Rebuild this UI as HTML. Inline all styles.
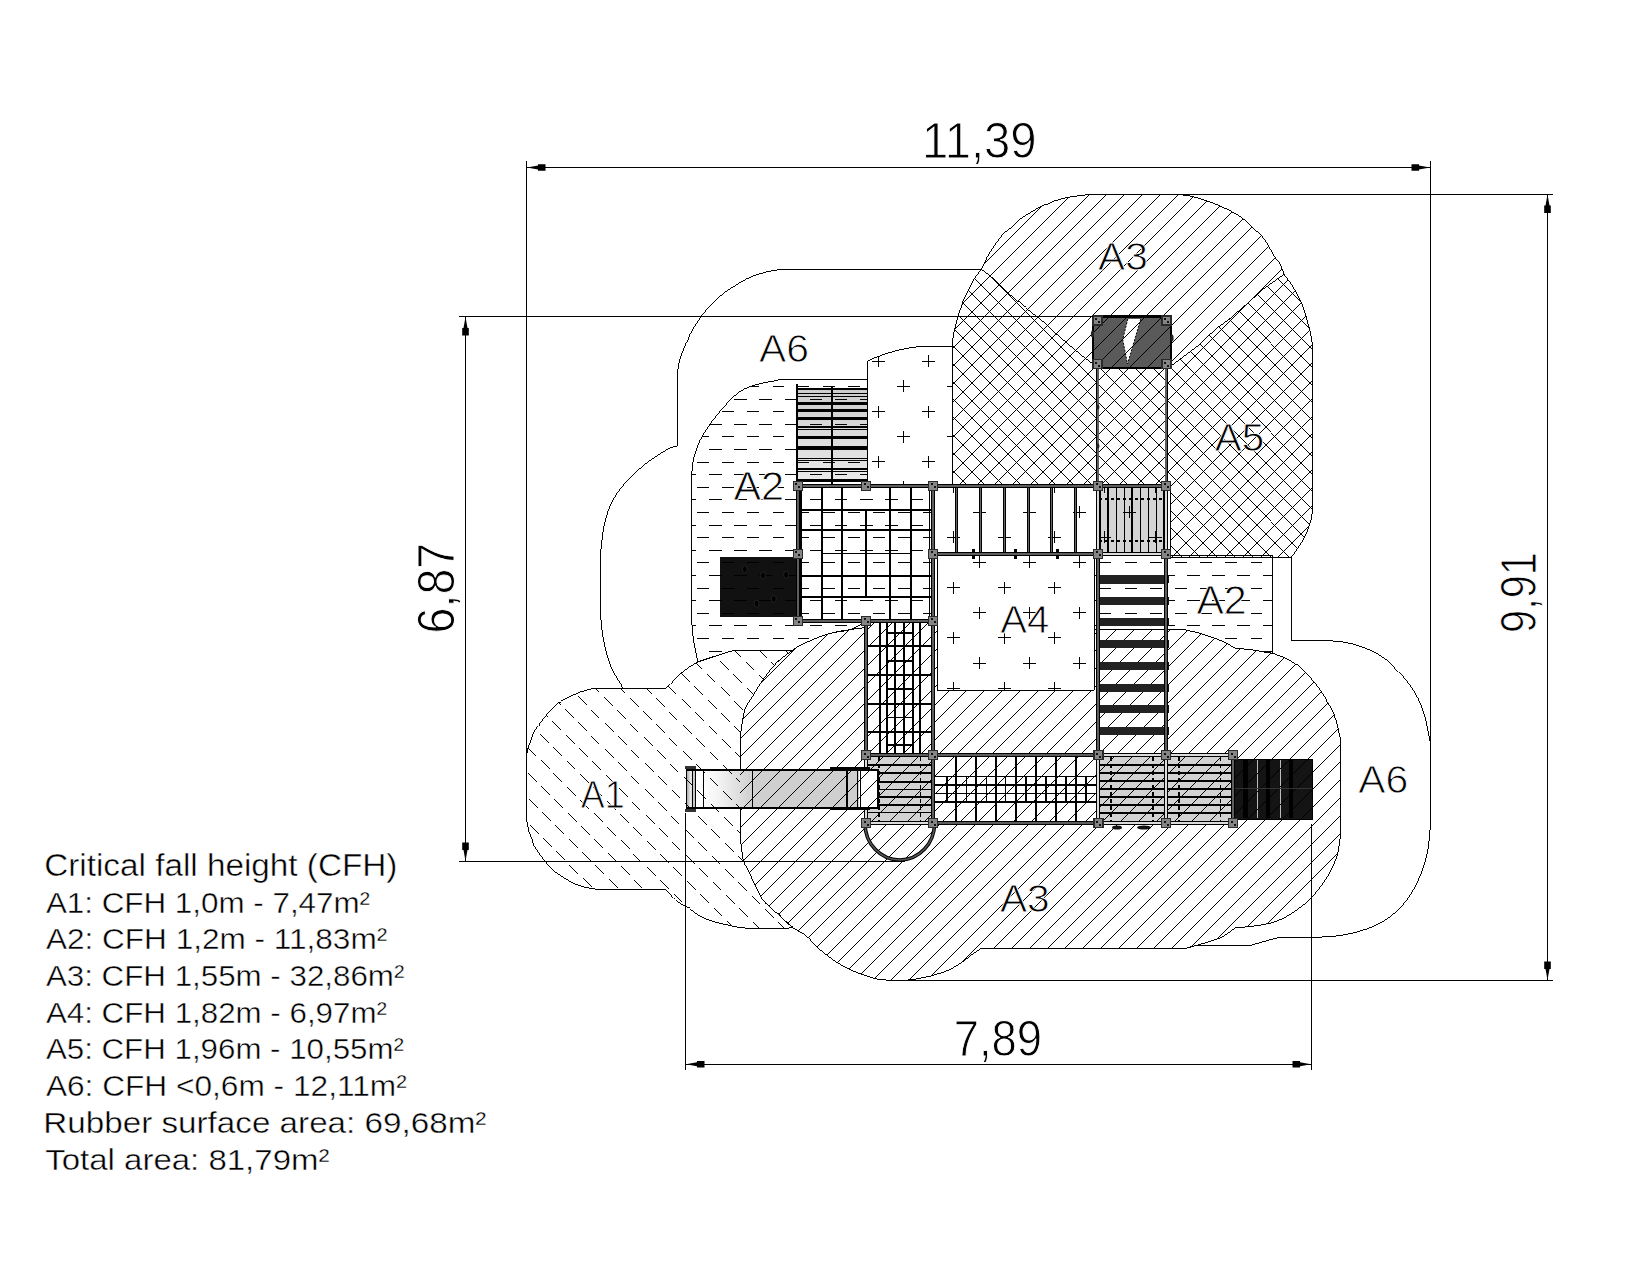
<!DOCTYPE html><html><head><meta charset="utf-8"><style>html,body{margin:0;padding:0;background:#fff}svg{display:block}</style></head><body>
<svg width="1650" height="1275" viewBox="0 0 1650 1275" font-family="Liberation Sans, sans-serif">
<rect width="1650" height="1275" fill="#fff"/>
<defs>
<clipPath id="cA3T"><path d="M952,485 L952,345 C952.4,342.5 953.4,334.9 954.4,330.1 C955.4,325.3 956.8,320.9 958.1,316.3 C959.4,311.7 960.7,306.7 962.4,302.5 C964.1,298.3 966.3,294.8 968.2,290.9 C970.1,287 971.8,282.9 974,279.3 C976.2,275.7 978.9,273.2 981.3,269.1 C983.7,265 986.3,258.5 988.5,254.6 C990.7,250.7 991.9,249.3 994.3,245.9 C996.7,242.5 1000.1,237.4 1003,234.3 C1005.9,231.2 1009,229.5 1011.7,227.1 C1014.4,224.7 1016.1,222.1 1019,219.8 C1021.9,217.5 1025.7,215.4 1029.1,213.3 C1032.5,211.2 1035.4,209.4 1039.3,207.5 C1043.2,205.6 1047.6,203.4 1052.4,201.7 C1057.2,200 1062.3,198.5 1068.3,197.3 C1074.3,196.1 1085.2,195.1 1088.6,194.6 L1180,194.6 C1182.2,194.9 1188.8,195.6 1193.3,196.7 C1197.8,197.8 1203,199.5 1207.3,201 C1211.6,202.5 1215.3,204 1219.3,205.7 C1223.3,207.4 1227.4,209.3 1231.3,211.4 C1235.2,213.5 1239.2,215.7 1242.7,218.3 C1246.2,220.9 1248.8,224 1252,227 C1255.2,230 1259.2,233.1 1262,236.3 C1264.8,239.5 1266.5,242.7 1268.7,246.3 C1270.9,249.9 1273.3,254.6 1275.3,257.7 C1277.3,260.8 1279.2,262.2 1280.7,265 C1282.2,267.8 1282.5,271.4 1284,274.3 C1285.5,277.2 1287.7,278.7 1290,282.3 C1292.3,285.9 1295.8,291.5 1298,295.7 C1300.2,299.9 1301.8,303.5 1303.3,307.7 C1304.8,311.9 1306.1,316.6 1307.3,321 C1308.5,325.4 1309.8,330.3 1310.7,334.3 C1311.6,338.3 1312.2,343.2 1312.5,345 L1313,503 C1313,528 1300,546 1291,557.6 L1170,557.6 L1170,485 Z"/></clipPath>
<clipPath id="cA5"><path d="M930,245 L981.3,269.1 L990,275.7 L998.7,283.6 L1007.4,292.4 L1017.5,301.1 L1026.2,308.3 L1036.4,316.3 L1046.6,324.3 L1055.3,333 L1065.4,341.7 L1075.6,350.4 L1084.3,357.6 L1094.4,364.9 L1094.4,368 L1171,368 L1171,366 L1190,351.7 L1200.7,343.7 L1210,334.3 L1219.3,326.3 L1228.7,319.7 L1239.3,310.3 L1248.7,302.3 L1263.3,289 L1284,274.3 L1320,248 L1360,600 L900,600 Z"/></clipPath>
<clipPath id="cA3B"><path d="M740,737.6 C740.8,733 742.6,716.9 744.7,710 C746.8,703.1 749.8,701.3 752.7,696.4 C755.7,691.5 758.4,686.3 762.4,680.6 C766.4,674.9 772,667.5 777,662.4 C782,657.3 788.7,653.2 792.7,650.3 C796.7,647.4 795.3,647.5 801.2,644.8 C807.1,642.1 819.8,636.5 827.9,634 C836,631.5 843.4,630.8 849.7,629.7 C856.1,628.6 863.3,627.9 866,627.5 L866,622 L937.3,622 L937.3,690.2 L1094,690.2 L1094,629.1 L1170,629.1 C1172.3,629.1 1180.7,628.9 1183.6,629.1 C1186.5,629.3 1184.2,629.5 1187.3,630.3 C1190.4,631.1 1197.4,632.5 1202.1,633.9 C1206.8,635.3 1211,636.9 1215.3,638.5 C1219.5,640.1 1224.2,642.1 1227.6,643.7 C1231,645.3 1232.5,647.4 1235.9,648.3 C1239.3,649.2 1244.1,648.8 1248.2,649.3 C1252.3,649.8 1256.5,650.6 1260.6,651.3 C1264.6,652 1268.4,652.5 1272.5,653.6 C1276.6,654.7 1280.3,655.6 1285,658 C1289.7,660.4 1295.1,663.2 1300.6,668 C1306.1,672.8 1312.5,679.5 1318,687 C1323.5,694.5 1329.7,704.2 1333.5,713 C1337.3,721.8 1339.4,735.5 1340.6,740 L1340.6,834 C1340,837.4 1339.4,847.5 1337.3,854.5 C1335.2,861.5 1332.2,868.7 1328,875.8 C1323.8,882.9 1317.3,891.2 1312,897 C1306.7,902.8 1301.3,906.6 1296,910.4 C1290.7,914.2 1285.5,917.4 1280,919.8 C1274.5,922.2 1270.5,923.3 1263,924.7 C1255.5,926.1 1239.4,927.5 1234.7,928 C1232.3,929.6 1227.9,934.4 1220.6,937.6 C1213.3,940.8 1196.9,945.2 1191,947 C1185.1,948.8 1186,948.1 1185,948.3 L981,948.3 C980.9,948.5 981.3,948.3 979.6,949.5 C977.9,950.7 973.6,953.4 970.9,955.3 C968.2,957.2 967.2,958.7 963.6,961.1 C960,963.5 954.4,967.4 949.1,969.8 C943.8,972.2 937.9,974 931.6,975.6 C925.3,977.2 916.6,979 911.3,979.7 C906,980.4 901.9,980 900,980 L886,980 C885,979.9 881.9,980.3 877.8,979.3 C873.7,978.3 866.6,975.9 861.8,974.2 C856.9,972.5 852.8,971.1 848.7,969.1 C844.6,967.1 840.7,964.8 837.1,962.5 C833.5,960.2 830,957.7 826.9,955.3 C823.8,952.9 821.8,951.4 818.2,948 C814.6,944.6 809.4,938.3 805.1,934.9 C800.9,931.5 797.3,931.1 792.7,927.6 C788.1,924.1 782,917.8 777.5,913.8 C773,909.8 768.7,906.2 766,903.5 C763.3,900.8 763.3,900.7 761.4,897.6 C759.5,894.5 756.8,889.2 754.8,885 C752.8,880.8 751.1,876.3 749.3,872.4 C747.5,868.5 745.1,865.7 743.8,861.6 C742.5,857.5 742.1,852.6 741.5,848 C740.9,843.4 740.2,836.3 740,834 Z"/></clipPath>
<clipPath id="cA1"><path d="M596.2,688.3 L666.2,688.2 C668.7,685.7 675.7,677.8 681,673.4 C686.3,669 692.1,664.9 698,662 C703.9,659.1 710.5,657.7 716.4,655.8 C722.3,653.9 730.5,651.4 733.3,650.5 L792.7,650.3 C790.1,652.3 782,657.3 777,662.4 C772,667.5 766.4,674.9 762.4,680.6 C758.4,686.3 755.7,691.5 752.7,696.4 C749.8,701.3 746.8,703.1 744.7,710 C742.6,716.9 740.8,733 740,737.6 L740,834 C740.2,836.3 740.9,843.4 741.5,848 C742.1,852.6 742.5,857.5 743.8,861.6 C745.1,865.7 747.5,868.5 749.3,872.4 C751.1,876.3 752.8,880.8 754.8,885 C756.8,889.2 759.5,894.5 761.4,897.6 C763.3,900.7 763.3,900.8 766,903.5 C768.7,906.2 773,909.8 777.5,913.8 C782,917.8 790.2,925.3 792.7,927.6 C788.9,928.4 777,928.4 770,928.4 C763,928.4 756.3,928.6 751,928.4 C745.7,928.2 742.1,927.8 738.3,927.3 C734.5,926.8 732,925.9 728.4,925.1 C724.8,924.3 719.9,923.3 716.6,922.4 C713.3,921.5 711.5,920.9 708.8,919.9 C706.1,918.9 702.9,917.7 700.6,916.5 C698.3,915.3 696.8,914.2 694.8,912.7 C692.8,911.2 690.1,908.9 688.5,907.8 C686.9,906.7 686.7,906.6 685.3,905.9 C683.9,905.2 682.1,904.9 680.2,903.5 C678.3,902.1 676.3,900 673.9,897.6 C671.5,895.2 667.1,890.8 665.7,889.4 L594.5,889.2 C592.4,888.7 585.5,887.5 581.8,886.4 C578.1,885.3 575.1,884.1 572.2,882.7 C569.4,881.3 567.6,880 564.7,878.2 C561.8,876.4 557.7,874 555,871.9 C552.3,869.8 550,867.5 548.3,865.6 C546.6,863.7 546,862.1 544.6,860.4 C543.2,858.6 541.5,857 540.1,855.1 C538.7,853.2 537.5,850.9 536.4,849.2 C535.3,847.5 534.1,846.5 533.4,844.7 C532.6,843 532.6,840.9 531.9,838.7 C531.1,836.5 529.6,833.8 528.9,831.3 C528.2,828.8 527.9,825.9 527.5,823.8 C527.1,821.7 526.5,819.5 526.3,818.6 L526.4,756.5 C526.6,755.9 526.8,754.2 527.1,752.7 C527.4,751.2 527.5,749.7 528.1,747.8 C528.7,745.9 529.7,743.9 530.6,741.4 C531.5,738.9 532,735.7 533.4,732.9 C534.8,730.1 537.6,726.7 539.1,724.5 C540.6,722.3 541.1,721.4 542.6,719.5 C544.1,717.6 546,715.6 548.2,713.2 C550.4,710.9 553.9,707.4 556,705.4 C558.1,703.4 558.7,702.6 560.9,701.2 C563.1,699.8 566.3,698.4 569.4,696.9 C572.5,695.4 575.8,693.7 579.3,692.4 C582.8,691.1 587.8,689.9 590.6,689.2 C593.4,688.5 595.3,688.4 596.2,688.3 Z"/></clipPath>
<clipPath id="cA2L"><path d="M781,379.4 L867.6,379.4 L867.6,485 L933,485 L933,622 L866,622 C863.3,623.3 856.1,627.7 849.7,629.7 C843.4,631.7 836,631.5 827.9,634 C819.8,636.5 807.1,642.1 801.2,644.8 C795.3,647.5 794.1,649.4 792.7,650.3 L733.3,650.5 C730.5,651.4 722.3,653.9 716.4,655.8 C710.5,657.7 701.1,661 698,662 C697.3,658.6 694.8,648.5 693.7,641.6 C692.6,634.7 692,624 691.6,620.5 L691.6,476 C692,472.8 692.3,463.7 694.1,457 C695.9,450.3 697.9,443.7 702.4,435.9 C706.9,428.1 714.2,417.9 721.2,410 C728.2,402.1 734.7,393.9 744.7,388.8 C754.7,383.7 775,381 781,379.4 Z"/></clipPath>
<clipPath id="cA2R"><path d="M1094,555.5 L1272.5,555.5 L1272.5,653.6 C1270.5,653.2 1264.6,652 1260.6,651.3 C1256.5,650.6 1252.3,649.8 1248.2,649.3 C1244.1,648.8 1239.3,649.2 1235.9,648.3 C1232.5,647.4 1231,645.3 1227.6,643.7 C1224.2,642.1 1219.5,640.1 1215.3,638.5 C1211,636.9 1206.8,635.3 1202.1,633.9 C1197.4,632.5 1190.4,631.1 1187.3,630.3 C1184.2,629.5 1184.2,629.3 1183.6,629.1 L1094,629.1 Z"/></clipPath>
<clipPath id="cA4"><path d="M867.6,485 L867.6,361 C880,355 900,348.5 918.8,346.6 L952,346.6 L952,485 L1166,485 L1166,553.8 L1094,553.8 L1094,690.2 L937.3,690.2 L937.3,553.8 L933,553.8 L933,485 Z"/></clipPath>
<clipPath id="cSlide"><rect x="686" y="769.5" width="192.5" height="38"/></clipPath>
<linearGradient id="gslide" x1="0" x2="1" y1="0" y2="0"><stop offset="0" stop-color="#fff"/><stop offset="0.25" stop-color="#f6f6f6"/><stop offset="1" stop-color="#cfcfcf"/></linearGradient>
<linearGradient id="gcap" x1="0" x2="1" y1="0" y2="0"><stop offset="0" stop-color="#9a9a9a"/><stop offset="0.5" stop-color="#e8e8e8"/><stop offset="1" stop-color="#bdbdbd"/></linearGradient>
</defs>
<g stroke="#000" stroke-width="0.99" fill="none" shape-rendering="crispEdges">
<path d="M952,485 L952,345 C952.4,342.5 953.4,334.9 954.4,330.1 C955.4,325.3 956.8,320.9 958.1,316.3 C959.4,311.7 960.7,306.7 962.4,302.5 C964.1,298.3 966.3,294.8 968.2,290.9 C970.1,287 971.8,282.9 974,279.3 C976.2,275.7 978.9,273.2 981.3,269.1 C983.7,265 986.3,258.5 988.5,254.6 C990.7,250.7 991.9,249.3 994.3,245.9 C996.7,242.5 1000.1,237.4 1003,234.3 C1005.9,231.2 1009,229.5 1011.7,227.1 C1014.4,224.7 1016.1,222.1 1019,219.8 C1021.9,217.5 1025.7,215.4 1029.1,213.3 C1032.5,211.2 1035.4,209.4 1039.3,207.5 C1043.2,205.6 1047.6,203.4 1052.4,201.7 C1057.2,200 1062.3,198.5 1068.3,197.3 C1074.3,196.1 1085.2,195.1 1088.6,194.6 L1180,194.6 C1182.2,194.9 1188.8,195.6 1193.3,196.7 C1197.8,197.8 1203,199.5 1207.3,201 C1211.6,202.5 1215.3,204 1219.3,205.7 C1223.3,207.4 1227.4,209.3 1231.3,211.4 C1235.2,213.5 1239.2,215.7 1242.7,218.3 C1246.2,220.9 1248.8,224 1252,227 C1255.2,230 1259.2,233.1 1262,236.3 C1264.8,239.5 1266.5,242.7 1268.7,246.3 C1270.9,249.9 1273.3,254.6 1275.3,257.7 C1277.3,260.8 1279.2,262.2 1280.7,265 C1282.2,267.8 1282.5,271.4 1284,274.3 C1285.5,277.2 1287.7,278.7 1290,282.3 C1292.3,285.9 1295.8,291.5 1298,295.7 C1300.2,299.9 1301.8,303.5 1303.3,307.7 C1304.8,311.9 1306.1,316.6 1307.3,321 C1308.5,325.4 1309.8,330.3 1310.7,334.3 C1311.6,338.3 1312.2,343.2 1312.5,345 L1313,503 C1313,528 1300,546 1291,557.6 L1170,557.6 L1170,485 Z"/>
<path d="M740,737.6 C740.8,733 742.6,716.9 744.7,710 C746.8,703.1 749.8,701.3 752.7,696.4 C755.7,691.5 758.4,686.3 762.4,680.6 C766.4,674.9 772,667.5 777,662.4 C782,657.3 788.7,653.2 792.7,650.3 C796.7,647.4 795.3,647.5 801.2,644.8 C807.1,642.1 819.8,636.5 827.9,634 C836,631.5 843.4,630.8 849.7,629.7 C856.1,628.6 863.3,627.9 866,627.5 L866,622 L937.3,622 L937.3,690.2 L1094,690.2 L1094,629.1 L1170,629.1 C1172.3,629.1 1180.7,628.9 1183.6,629.1 C1186.5,629.3 1184.2,629.5 1187.3,630.3 C1190.4,631.1 1197.4,632.5 1202.1,633.9 C1206.8,635.3 1211,636.9 1215.3,638.5 C1219.5,640.1 1224.2,642.1 1227.6,643.7 C1231,645.3 1232.5,647.4 1235.9,648.3 C1239.3,649.2 1244.1,648.8 1248.2,649.3 C1252.3,649.8 1256.5,650.6 1260.6,651.3 C1264.6,652 1268.4,652.5 1272.5,653.6 C1276.6,654.7 1280.3,655.6 1285,658 C1289.7,660.4 1295.1,663.2 1300.6,668 C1306.1,672.8 1312.5,679.5 1318,687 C1323.5,694.5 1329.7,704.2 1333.5,713 C1337.3,721.8 1339.4,735.5 1340.6,740 L1340.6,834 C1340,837.4 1339.4,847.5 1337.3,854.5 C1335.2,861.5 1332.2,868.7 1328,875.8 C1323.8,882.9 1317.3,891.2 1312,897 C1306.7,902.8 1301.3,906.6 1296,910.4 C1290.7,914.2 1285.5,917.4 1280,919.8 C1274.5,922.2 1270.5,923.3 1263,924.7 C1255.5,926.1 1239.4,927.5 1234.7,928 C1232.3,929.6 1227.9,934.4 1220.6,937.6 C1213.3,940.8 1196.9,945.2 1191,947 C1185.1,948.8 1186,948.1 1185,948.3 L981,948.3 C980.9,948.5 981.3,948.3 979.6,949.5 C977.9,950.7 973.6,953.4 970.9,955.3 C968.2,957.2 967.2,958.7 963.6,961.1 C960,963.5 954.4,967.4 949.1,969.8 C943.8,972.2 937.9,974 931.6,975.6 C925.3,977.2 916.6,979 911.3,979.7 C906,980.4 901.9,980 900,980 L886,980 C885,979.9 881.9,980.3 877.8,979.3 C873.7,978.3 866.6,975.9 861.8,974.2 C856.9,972.5 852.8,971.1 848.7,969.1 C844.6,967.1 840.7,964.8 837.1,962.5 C833.5,960.2 830,957.7 826.9,955.3 C823.8,952.9 821.8,951.4 818.2,948 C814.6,944.6 809.4,938.3 805.1,934.9 C800.9,931.5 797.3,931.1 792.7,927.6 C788.1,924.1 782,917.8 777.5,913.8 C773,909.8 768.7,906.2 766,903.5 C763.3,900.8 763.3,900.7 761.4,897.6 C759.5,894.5 756.8,889.2 754.8,885 C752.8,880.8 751.1,876.3 749.3,872.4 C747.5,868.5 745.1,865.7 743.8,861.6 C742.5,857.5 742.1,852.6 741.5,848 C740.9,843.4 740.2,836.3 740,834 Z"/>
<path d="M596.2,688.3 L666.2,688.2 C668.7,685.7 675.7,677.8 681,673.4 C686.3,669 692.1,664.9 698,662 C703.9,659.1 710.5,657.7 716.4,655.8 C722.3,653.9 730.5,651.4 733.3,650.5 L792.7,650.3 C790.1,652.3 782,657.3 777,662.4 C772,667.5 766.4,674.9 762.4,680.6 C758.4,686.3 755.7,691.5 752.7,696.4 C749.8,701.3 746.8,703.1 744.7,710 C742.6,716.9 740.8,733 740,737.6 L740,834 C740.2,836.3 740.9,843.4 741.5,848 C742.1,852.6 742.5,857.5 743.8,861.6 C745.1,865.7 747.5,868.5 749.3,872.4 C751.1,876.3 752.8,880.8 754.8,885 C756.8,889.2 759.5,894.5 761.4,897.6 C763.3,900.7 763.3,900.8 766,903.5 C768.7,906.2 773,909.8 777.5,913.8 C782,917.8 790.2,925.3 792.7,927.6 C788.9,928.4 777,928.4 770,928.4 C763,928.4 756.3,928.6 751,928.4 C745.7,928.2 742.1,927.8 738.3,927.3 C734.5,926.8 732,925.9 728.4,925.1 C724.8,924.3 719.9,923.3 716.6,922.4 C713.3,921.5 711.5,920.9 708.8,919.9 C706.1,918.9 702.9,917.7 700.6,916.5 C698.3,915.3 696.8,914.2 694.8,912.7 C692.8,911.2 690.1,908.9 688.5,907.8 C686.9,906.7 686.7,906.6 685.3,905.9 C683.9,905.2 682.1,904.9 680.2,903.5 C678.3,902.1 676.3,900 673.9,897.6 C671.5,895.2 667.1,890.8 665.7,889.4 L594.5,889.2 C592.4,888.7 585.5,887.5 581.8,886.4 C578.1,885.3 575.1,884.1 572.2,882.7 C569.4,881.3 567.6,880 564.7,878.2 C561.8,876.4 557.7,874 555,871.9 C552.3,869.8 550,867.5 548.3,865.6 C546.6,863.7 546,862.1 544.6,860.4 C543.2,858.6 541.5,857 540.1,855.1 C538.7,853.2 537.5,850.9 536.4,849.2 C535.3,847.5 534.1,846.5 533.4,844.7 C532.6,843 532.6,840.9 531.9,838.7 C531.1,836.5 529.6,833.8 528.9,831.3 C528.2,828.8 527.9,825.9 527.5,823.8 C527.1,821.7 526.5,819.5 526.3,818.6 L526.4,756.5 C526.6,755.9 526.8,754.2 527.1,752.7 C527.4,751.2 527.5,749.7 528.1,747.8 C528.7,745.9 529.7,743.9 530.6,741.4 C531.5,738.9 532,735.7 533.4,732.9 C534.8,730.1 537.6,726.7 539.1,724.5 C540.6,722.3 541.1,721.4 542.6,719.5 C544.1,717.6 546,715.6 548.2,713.2 C550.4,710.9 553.9,707.4 556,705.4 C558.1,703.4 558.7,702.6 560.9,701.2 C563.1,699.8 566.3,698.4 569.4,696.9 C572.5,695.4 575.8,693.7 579.3,692.4 C582.8,691.1 587.8,689.9 590.6,689.2 C593.4,688.5 595.3,688.4 596.2,688.3 Z"/>
<path d="M781,379.4 L867.6,379.4 L867.6,485 L933,485 L933,622 L866,622 C863.3,623.3 856.1,627.7 849.7,629.7 C843.4,631.7 836,631.5 827.9,634 C819.8,636.5 807.1,642.1 801.2,644.8 C795.3,647.5 794.1,649.4 792.7,650.3 L733.3,650.5 C730.5,651.4 722.3,653.9 716.4,655.8 C710.5,657.7 701.1,661 698,662 C697.3,658.6 694.8,648.5 693.7,641.6 C692.6,634.7 692,624 691.6,620.5 L691.6,476 C692,472.8 692.3,463.7 694.1,457 C695.9,450.3 697.9,443.7 702.4,435.9 C706.9,428.1 714.2,417.9 721.2,410 C728.2,402.1 734.7,393.9 744.7,388.8 C754.7,383.7 775,381 781,379.4 Z"/>
<path d="M1094,555.5 L1272.5,555.5 L1272.5,653.6 C1270.5,653.2 1264.6,652 1260.6,651.3 C1256.5,650.6 1252.3,649.8 1248.2,649.3 C1244.1,648.8 1239.3,649.2 1235.9,648.3 C1232.5,647.4 1231,645.3 1227.6,643.7 C1224.2,642.1 1219.5,640.1 1215.3,638.5 C1211,636.9 1206.8,635.3 1202.1,633.9 C1197.4,632.5 1190.4,631.1 1187.3,630.3 C1184.2,629.5 1184.2,629.3 1183.6,629.1 L1094,629.1 Z"/>
<path d="M867.6,485 L867.6,361 C880,355 900,348.5 918.8,346.6 L952,346.6 L952,485 L1166,485 L1166,553.8 L1094,553.8 L1094,690.2 L937.3,690.2 L937.3,553.8 L933,553.8 L933,485 Z"/>
<path d="M981.3,269.1 L990,275.7 L998.7,283.6 L1007.4,292.4 L1017.5,301.1 L1026.2,308.3 L1036.4,316.3 L1046.6,324.3 L1055.3,333 L1065.4,341.7 L1075.6,350.4 L1084.3,357.6 L1094.4,364.9"/>
<path d="M1171,366 L1190,351.7 L1200.7,343.7 L1210,334.3 L1219.3,326.3 L1228.7,319.7 L1239.3,310.3 L1248.7,302.3 L1263.3,289 L1284,274.3"/>
<path d="M623.4,688.2 C621.4,684.7 614.5,674.8 611.2,667 C607.9,659.2 605.6,650.1 603.8,641.6 C602,633.1 601.1,620.4 600.6,616.2 L600.6,552.8 C601.1,548.6 602.2,535.2 603.8,527.4 C605.4,519.6 607.1,512.9 610.1,506.2 C613.1,499.5 616.2,493.8 621.7,487.1 C627.2,480.4 635.5,472.2 642.9,466 C650.3,459.8 660.5,453.5 666.2,450.1 C672,446.8 675.5,446.6 677.4,445.9 L677.4,377 C677.5,376.2 677.4,374.7 677.7,372.2 C678,369.7 678.3,365.7 679.2,362 C680.1,358.3 681.6,354.2 683.3,349.8 C685,345.4 687.2,339.9 689.4,335.5 C691.6,331.1 694.1,327 696.5,323.3 C698.9,319.6 701,316.5 703.7,313.1 C706.4,309.7 709.7,306.1 712.9,302.9 C716.1,299.7 719.4,296.6 723.1,293.7 C726.8,290.8 731.2,288.1 735.3,285.5 C739.4,282.9 743.5,280.3 747.6,278.4 C751.7,276.4 755.7,275.1 759.8,273.8 C763.9,272.5 767.9,271.4 772,270.7 C776.1,270 782.2,269.6 784.3,269.4 L981,269.4"/>
<path d="M1291,557.6 L1291,640 L1319.4,640 C1323.9,640.4 1338.5,641.1 1346.6,642.6 C1354.7,644.1 1361.3,646.4 1368,649.3 C1374.7,652.2 1380.8,655.5 1386.6,660 C1392.4,664.5 1397.7,670.2 1402.6,676 C1407.5,681.8 1412.4,688.4 1415.9,694.6 C1419.5,700.8 1421.7,706.2 1423.9,713.3 C1426.1,720.4 1428.1,731.9 1429.2,737.2 C1430.3,742.5 1430.3,743.7 1430.5,745 L1430.5,822.5 C1430.1,827 1429.5,840.8 1427.9,849.2 C1426.4,857.6 1424.1,865.6 1421.2,873.1 C1418.3,880.6 1415,887.7 1410.6,894.4 C1406.2,901.1 1400.8,907.8 1394.6,913.1 C1388.4,918.4 1381.3,922.9 1373.3,926.4 C1365.3,929.9 1355.5,932.6 1346.6,934.4 C1337.7,936.2 1329.4,936.6 1320,937.1 C1310.6,937.6 1297,937.5 1290,937.6 C1283,937.7 1280,937.6 1278,937.6 L1250,945.5 L1195.8,945.5 L1190,947"/>
</g>
<g shape-rendering="crispEdges">
<defs><linearGradient id="gst" x1="0" x2="0" y1="0" y2="1"><stop offset="0" stop-color="#cdcdcd"/><stop offset="1" stop-color="#e9e9e9"/></linearGradient></defs>
<rect x="797" y="389" width="70.5" height="92" fill="url(#gst)"/>
<rect x="720" y="557" width="77.5" height="60" fill="#111"/>
<rect x="1093" y="316" width="78" height="52.5" fill="#5a5a5a"/>
<path d="M1127.8,319 L1140.8,319 L1127.5,364 L1122.7,339.5 Z" fill="#fff" shape-rendering="auto"/>
<rect x="1098" y="486" width="68" height="67.5" fill="#d4d4d4"/>
<rect x="866" y="756" width="67" height="67" fill="#d3d3d3"/>
<rect x="1098" y="756" width="135" height="67" fill="#d2d2d2"/>
<rect x="1233.5" y="759" width="78.5" height="60" fill="#141414"/>
<g fill="#000"><rect x="1243" y="760" width="4.5" height="58"/><rect x="1266" y="760" width="4" height="58"/><rect x="1289" y="760" width="4" height="58"/></g>
<g fill="#bbb"><rect x="1257" y="760" width="1" height="58"/><rect x="1280" y="760" width="1" height="58"/></g>
</g>
<g stroke="#000" stroke-width="0.99" fill="none" shape-rendering="crispEdges">
<path clip-path="url(#cA3T)" d="M558.4,565 L938.4,185 M576.2,565 L956.2,185 M594,565 L974,185 M611.8,565 L991.8,185 M629.6,565 L1009.6,185 M647.4,565 L1027.4,185 M665.2,565 L1045.2,185 M683,565 L1063,185 M700.8,565 L1080.8,185 M718.6,565 L1098.6,185 M736.4,565 L1116.4,185 M754.2,565 L1134.2,185 M772,565 L1152,185 M789.8,565 L1169.8,185 M807.6,565 L1187.6,185 M825.4,565 L1205.4,185 M843.2,565 L1223.2,185 M861,565 L1241,185 M878.8,565 L1258.8,185 M896.6,565 L1276.6,185 M914.4,565 L1294.4,185 M932.2,565 L1312.2,185 M950,565 L1330,185 M967.8,565 L1347.8,185 M985.6,565 L1365.6,185 M1003.4,565 L1383.4,185 M1021.2,565 L1401.2,185 M1039,565 L1419,185 M1056.8,565 L1436.8,185 M1074.6,565 L1454.6,185 M1092.4,565 L1472.4,185 M1110.2,565 L1490.2,185 M1128,565 L1508,185 M1145.8,565 L1525.8,185 M1163.6,565 L1543.6,185 M1181.4,565 L1561.4,185 M1199.2,565 L1579.2,185 M1217,565 L1597,185 M1234.8,565 L1614.8,185 M1252.6,565 L1632.6,185 M1270.4,565 L1650.4,185 M1288.2,565 L1668.2,185 M1306,565 L1686,185 M1323.8,565 L1703.8,185 M1341.6,565 L1721.6,185"/>
<g clip-path="url(#cA3T)"><path clip-path="url(#cA5)" d="M542.9,185 L922.9,565 M560.7,185 L940.7,565 M578.5,185 L958.5,565 M596.3,185 L976.3,565 M614.1,185 L994.1,565 M631.9,185 L1011.9,565 M649.7,185 L1029.7,565 M667.5,185 L1047.5,565 M685.3,185 L1065.3,565 M703.1,185 L1083.1,565 M720.9,185 L1100.9,565 M738.7,185 L1118.7,565 M756.5,185 L1136.5,565 M774.3,185 L1154.3,565 M792.1,185 L1172.1,565 M809.9,185 L1189.9,565 M827.7,185 L1207.7,565 M845.5,185 L1225.5,565 M863.3,185 L1243.3,565 M881.1,185 L1261.1,565 M898.9,185 L1278.9,565 M916.7,185 L1296.7,565 M934.5,185 L1314.5,565 M952.3,185 L1332.3,565 M970.1,185 L1350.1,565 M987.9,185 L1367.9,565 M1005.7,185 L1385.7,565 M1023.5,185 L1403.5,565 M1041.3,185 L1421.3,565 M1059.1,185 L1439.1,565 M1076.9,185 L1456.9,565 M1094.7,185 L1474.7,565 M1112.5,185 L1492.5,565 M1130.3,185 L1510.3,565 M1148.1,185 L1528.1,565 M1165.9,185 L1545.9,565 M1183.7,185 L1563.7,565 M1201.5,185 L1581.5,565 M1219.3,185 L1599.3,565 M1237.1,185 L1617.1,565 M1254.9,185 L1634.9,565 M1272.7,185 L1652.7,565 M1290.5,185 L1670.5,565 M1308.3,185 L1688.3,565 M1326.1,185 L1706.1,565"/></g>
<path clip-path="url(#cA3B)" d="M347,990 L722,615 M364.8,990 L739.8,615 M382.6,990 L757.6,615 M400.4,990 L775.4,615 M418.2,990 L793.2,615 M436,990 L811,615 M453.8,990 L828.8,615 M471.6,990 L846.6,615 M489.4,990 L864.4,615 M507.2,990 L882.2,615 M525,990 L900,615 M542.8,990 L917.8,615 M560.6,990 L935.6,615 M578.4,990 L953.4,615 M596.2,990 L971.2,615 M614,990 L989,615 M631.8,990 L1006.8,615 M649.6,990 L1024.6,615 M667.4,990 L1042.4,615 M685.2,990 L1060.2,615 M703,990 L1078,615 M720.8,990 L1095.8,615 M738.6,990 L1113.6,615 M756.4,990 L1131.4,615 M774.2,990 L1149.2,615 M792,990 L1167,615 M809.8,990 L1184.8,615 M827.6,990 L1202.6,615 M845.4,990 L1220.4,615 M863.2,990 L1238.2,615 M881,990 L1256,615 M898.8,990 L1273.8,615 M916.6,990 L1291.6,615 M934.4,990 L1309.4,615 M952.2,990 L1327.2,615 M970,990 L1345,615 M987.8,990 L1362.8,615 M1005.6,990 L1380.6,615 M1023.4,990 L1398.4,615 M1041.2,990 L1416.2,615 M1059,990 L1434,615 M1076.8,990 L1451.8,615 M1094.6,990 L1469.6,615 M1112.4,990 L1487.4,615 M1130.2,990 L1505.2,615 M1148,990 L1523,615 M1165.8,990 L1540.8,615 M1183.6,990 L1558.6,615 M1201.4,990 L1576.4,615 M1219.2,990 L1594.2,615 M1237,990 L1612,615 M1254.8,990 L1629.8,615 M1272.6,990 L1647.6,615 M1290.4,990 L1665.4,615 M1308.2,990 L1683.2,615 M1326,990 L1701,615 M1343.8,990 L1718.8,615 M1361.6,990 L1736.6,615"/>
<path clip-path="url(#cA1)" d="M510.9,629.4 l8.8,8.8 M511.6,655.4 l8.8,8.8 M524.3,642.7 l8.8,8.8 M537,630 l8.8,8.8 M512.4,681.4 l8.8,8.8 M525,668.7 l8.8,8.8 M537.6,656.1 l8.8,8.8 M550.3,643.4 l8.8,8.8 M563,630.8 l8.8,8.8 M513,707.3 l8.8,8.8 M525.7,694.7 l8.8,8.8 M538.3,682 l8.8,8.8 M551,669.4 l8.8,8.8 M563.6,656.7 l8.8,8.8 M576.3,644.1 l8.8,8.8 M588.9,631.4 l8.8,8.8 M513.8,733.3 l8.8,8.8 M526.4,720.7 l8.8,8.8 M539,708 l8.8,8.8 M551.7,695.4 l8.8,8.8 M564.3,682.8 l8.8,8.8 M577,670.1 l8.8,8.8 M589.6,657.4 l8.8,8.8 M602.3,644.8 l8.8,8.8 M614.9,632.1 l8.8,8.8 M514.4,759.4 l8.8,8.8 M527.1,746.7 l8.8,8.8 M539.8,734 l8.8,8.8 M552.4,721.4 l8.8,8.8 M565,708.8 l8.8,8.8 M577.7,696.1 l8.8,8.8 M590.4,683.4 l8.8,8.8 M603,670.8 l8.8,8.8 M615.6,658.1 l8.8,8.8 M628.3,645.5 l8.8,8.8 M640.9,632.9 l8.8,8.8 M515.1,785.4 l8.8,8.8 M527.8,772.7 l8.8,8.8 M540.5,760 l8.8,8.8 M553.1,747.4 l8.8,8.8 M565.8,734.8 l8.8,8.8 M578.4,722.1 l8.8,8.8 M591,709.5 l8.8,8.8 M603.7,696.8 l8.8,8.8 M616.4,684.1 l8.8,8.8 M629,671.5 l8.8,8.8 M641.6,658.9 l8.8,8.8 M654.3,646.2 l8.8,8.8 M667,633.5 l8.8,8.8 M515.9,811.4 l8.8,8.8 M528.5,798.7 l8.8,8.8 M541.1,786.1 l8.8,8.8 M553.8,773.4 l8.8,8.8 M566.5,760.8 l8.8,8.8 M579.1,748.1 l8.8,8.8 M591.8,735.5 l8.8,8.8 M604.4,722.8 l8.8,8.8 M617.1,710.1 l8.8,8.8 M629.7,697.5 l8.8,8.8 M642.4,684.9 l8.8,8.8 M655,672.2 l8.8,8.8 M667.6,659.6 l8.8,8.8 M680.3,646.9 l8.8,8.8 M693,634.2 l8.8,8.8 M516.5,837.3 l8.8,8.8 M529.2,824.7 l8.8,8.8 M541.8,812 l8.8,8.8 M554.5,799.4 l8.8,8.8 M567.1,786.7 l8.8,8.8 M579.8,774.1 l8.8,8.8 M592.4,761.4 l8.8,8.8 M605.1,748.8 l8.8,8.8 M617.7,736.1 l8.8,8.8 M630.4,723.5 l8.8,8.8 M643,710.8 l8.8,8.8 M655.7,698.2 l8.8,8.8 M668.3,685.5 l8.8,8.8 M681,672.9 l8.8,8.8 M693.6,660.2 l8.8,8.8 M706.3,647.6 l8.8,8.8 M718.9,634.9 l8.8,8.8 M517.2,863.4 l8.8,8.8 M529.9,850.7 l8.8,8.8 M542.5,838 l8.8,8.8 M555.2,825.4 l8.8,8.8 M567.9,812.7 l8.8,8.8 M580.5,800.1 l8.8,8.8 M593.1,787.4 l8.8,8.8 M605.8,774.8 l8.8,8.8 M618.4,762.1 l8.8,8.8 M631.1,749.5 l8.8,8.8 M643.8,736.8 l8.8,8.8 M656.4,724.2 l8.8,8.8 M669,711.5 l8.8,8.8 M681.7,698.9 l8.8,8.8 M694.4,686.2 l8.8,8.8 M707,673.6 l8.8,8.8 M719.6,660.9 l8.8,8.8 M732.3,648.3 l8.8,8.8 M744.9,635.6 l8.8,8.8 M517.9,889.4 l8.8,8.8 M530.6,876.7 l8.8,8.8 M543.2,864 l8.8,8.8 M555.9,851.4 l8.8,8.8 M568.5,838.8 l8.8,8.8 M581.2,826.1 l8.8,8.8 M593.9,813.4 l8.8,8.8 M606.5,800.8 l8.8,8.8 M619.1,788.1 l8.8,8.8 M631.8,775.5 l8.8,8.8 M644.4,762.9 l8.8,8.8 M657.1,750.2 l8.8,8.8 M669.8,737.5 l8.8,8.8 M682.4,724.9 l8.8,8.8 M695,712.2 l8.8,8.8 M707.7,699.6 l8.8,8.8 M720.4,686.9 l8.8,8.8 M733,674.3 l8.8,8.8 M745.6,661.6 l8.8,8.8 M758.3,649 l8.8,8.8 M770.9,636.4 l8.8,8.8 M506,928 l8.8,8.8 M518.6,915.4 l8.8,8.8 M531.3,902.7 l8.8,8.8 M543.9,890.1 l8.8,8.8 M556.6,877.4 l8.8,8.8 M569.2,864.8 l8.8,8.8 M581.9,852.1 l8.8,8.8 M594.6,839.4 l8.8,8.8 M607.2,826.8 l8.8,8.8 M619.9,814.1 l8.8,8.8 M632.5,801.5 l8.8,8.8 M645.1,788.9 l8.8,8.8 M657.8,776.2 l8.8,8.8 M670.5,763.5 l8.8,8.8 M683.1,750.9 l8.8,8.8 M695.8,738.2 l8.8,8.8 M708.4,725.6 l8.8,8.8 M721.1,712.9 l8.8,8.8 M733.7,700.3 l8.8,8.8 M746.4,687.6 l8.8,8.8 M759,675 l8.8,8.8 M771.6,662.4 l8.8,8.8 M784.3,649.7 l8.8,8.8 M797,637 l8.8,8.8 M532,928.7 l8.8,8.8 M544.6,916.1 l8.8,8.8 M557.3,903.4 l8.8,8.8 M570,890.8 l8.8,8.8 M582.6,878.1 l8.8,8.8 M595.2,865.5 l8.8,8.8 M607.9,852.8 l8.8,8.8 M620.6,840.1 l8.8,8.8 M633.2,827.5 l8.8,8.8 M645.9,814.9 l8.8,8.8 M658.5,802.2 l8.8,8.8 M671.1,789.6 l8.8,8.8 M683.8,776.9 l8.8,8.8 M696.5,764.2 l8.8,8.8 M709.1,751.6 l8.8,8.8 M721.8,739 l8.8,8.8 M734.4,726.3 l8.8,8.8 M747.1,713.6 l8.8,8.8 M759.7,701 l8.8,8.8 M772.4,688.4 l8.8,8.8 M785,675.7 l8.8,8.8 M797.6,663.1 l8.8,8.8 M558,929.4 l8.8,8.8 M570.6,916.7 l8.8,8.8 M583.3,904.1 l8.8,8.8 M595.9,891.4 l8.8,8.8 M608.6,878.8 l8.8,8.8 M621.2,866.1 l8.8,8.8 M633.9,853.5 l8.8,8.8 M646.5,840.8 l8.8,8.8 M659.2,828.2 l8.8,8.8 M671.8,815.5 l8.8,8.8 M684.5,802.9 l8.8,8.8 M697.1,790.2 l8.8,8.8 M709.8,777.6 l8.8,8.8 M722.4,764.9 l8.8,8.8 M735.1,752.3 l8.8,8.8 M747.7,739.6 l8.8,8.8 M760.4,727 l8.8,8.8 M773,714.3 l8.8,8.8 M785.7,701.7 l8.8,8.8 M798.3,689 l8.8,8.8 M584,930.1 l8.8,8.8 M596.6,917.4 l8.8,8.8 M609.3,904.8 l8.8,8.8 M621.9,892.1 l8.8,8.8 M634.6,879.5 l8.8,8.8 M647.2,866.8 l8.8,8.8 M659.9,854.2 l8.8,8.8 M672.5,841.5 l8.8,8.8 M685.2,828.9 l8.8,8.8 M697.8,816.2 l8.8,8.8 M710.5,803.6 l8.8,8.8 M723.1,790.9 l8.8,8.8 M735.8,778.3 l8.8,8.8 M748.4,765.6 l8.8,8.8 M761.1,753 l8.8,8.8 M773.8,740.3 l8.8,8.8 M786.4,727.7 l8.8,8.8 M799,715 l8.8,8.8 M610,930.8 l8.8,8.8 M622.6,918.1 l8.8,8.8 M635.3,905.5 l8.8,8.8 M647.9,892.9 l8.8,8.8 M660.6,880.2 l8.8,8.8 M673.2,867.5 l8.8,8.8 M685.9,854.9 l8.8,8.8 M698.5,842.2 l8.8,8.8 M711.2,829.6 l8.8,8.8 M723.9,816.9 l8.8,8.8 M736.5,804.3 l8.8,8.8 M749.1,791.6 l8.8,8.8 M761.8,779 l8.8,8.8 M774.4,766.4 l8.8,8.8 M787.1,753.7 l8.8,8.8 M799.8,741 l8.8,8.8 M636,931.5 l8.8,8.8 M648.6,918.9 l8.8,8.8 M661.3,906.2 l8.8,8.8 M674,893.5 l8.8,8.8 M686.6,880.9 l8.8,8.8 M699.2,868.2 l8.8,8.8 M711.9,855.6 l8.8,8.8 M724.5,843 l8.8,8.8 M737.2,830.3 l8.8,8.8 M749.9,817.6 l8.8,8.8 M762.5,805 l8.8,8.8 M775.1,792.4 l8.8,8.8 M787.8,779.7 l8.8,8.8 M800.5,767 l8.8,8.8 M662,932.2 l8.8,8.8 M674.6,919.6 l8.8,8.8 M687.3,906.9 l8.8,8.8 M700,894.2 l8.8,8.8 M712.6,881.6 l8.8,8.8 M725.2,869 l8.8,8.8 M737.9,856.3 l8.8,8.8 M750.6,843.6 l8.8,8.8 M763.2,831 l8.8,8.8 M775.9,818.4 l8.8,8.8 M788.5,805.7 l8.8,8.8 M801.1,793.1 l8.8,8.8 M688,932.9 l8.8,8.8 M700.6,920.2 l8.8,8.8 M713.3,907.6 l8.8,8.8 M725.9,894.9 l8.8,8.8 M738.6,882.3 l8.8,8.8 M751.2,869.6 l8.8,8.8 M763.9,857 l8.8,8.8 M776.5,844.3 l8.8,8.8 M789.2,831.7 l8.8,8.8 M801.8,819 l8.8,8.8 M714,933.6 l8.8,8.8 M726.6,920.9 l8.8,8.8 M739.3,908.3 l8.8,8.8 M751.9,895.6 l8.8,8.8 M764.6,883 l8.8,8.8 M777.2,870.3 l8.8,8.8 M789.9,857.7 l8.8,8.8 M802.5,845 l8.8,8.8 M740,934.3 l8.8,8.8 M752.6,921.6 l8.8,8.8 M765.3,909 l8.8,8.8 M777.9,896.4 l8.8,8.8 M790.6,883.7 l8.8,8.8 M803.2,871 l8.8,8.8 M766,935 l8.8,8.8 M778.6,922.4 l8.8,8.8 M791.3,909.7 l8.8,8.8 M804,897 l8.8,8.8 M792,935.7 l8.8,8.8 M804.6,923.1 l8.8,8.8"/>
<path clip-path="url(#cA2L)" d="M646.7,361.2 h11.8 M671.8,361.2 h11.8 M697,361.2 h11.8 M722.2,361.2 h11.8 M747.3,361.2 h11.8 M772.5,361.2 h11.8 M797.6,361.2 h11.8 M822.8,361.2 h11.8 M848,361.2 h11.8 M873.1,361.2 h11.8 M898.3,361.2 h11.8 M923.4,361.2 h11.8 M948.6,361.2 h11.8 M973.8,361.2 h11.8 M658.7,373.8 h12.6 M683.8,373.8 h12.6 M709,373.8 h12.6 M734.2,373.8 h12.6 M759.3,373.8 h12.6 M784.5,373.8 h12.6 M809.6,373.8 h12.6 M834.8,373.8 h12.6 M860,373.8 h12.6 M885.1,373.8 h12.6 M910.3,373.8 h12.6 M935.4,373.8 h12.6 M960.6,373.8 h12.6 M985.8,373.8 h12.6 M646.7,386.4 h11.8 M671.8,386.4 h11.8 M697,386.4 h11.8 M722.2,386.4 h11.8 M747.3,386.4 h11.8 M772.5,386.4 h11.8 M797.6,386.4 h11.8 M822.8,386.4 h11.8 M848,386.4 h11.8 M873.1,386.4 h11.8 M898.3,386.4 h11.8 M923.4,386.4 h11.8 M948.6,386.4 h11.8 M973.8,386.4 h11.8 M658.7,399 h12.6 M683.8,399 h12.6 M709,399 h12.6 M734.2,399 h12.6 M759.3,399 h12.6 M784.5,399 h12.6 M809.6,399 h12.6 M834.8,399 h12.6 M860,399 h12.6 M885.1,399 h12.6 M910.3,399 h12.6 M935.4,399 h12.6 M960.6,399 h12.6 M985.8,399 h12.6 M646.7,411.6 h11.8 M671.8,411.6 h11.8 M697,411.6 h11.8 M722.2,411.6 h11.8 M747.3,411.6 h11.8 M772.5,411.6 h11.8 M797.6,411.6 h11.8 M822.8,411.6 h11.8 M848,411.6 h11.8 M873.1,411.6 h11.8 M898.3,411.6 h11.8 M923.4,411.6 h11.8 M948.6,411.6 h11.8 M973.8,411.6 h11.8 M658.7,424.2 h12.6 M683.8,424.2 h12.6 M709,424.2 h12.6 M734.2,424.2 h12.6 M759.3,424.2 h12.6 M784.5,424.2 h12.6 M809.6,424.2 h12.6 M834.8,424.2 h12.6 M860,424.2 h12.6 M885.1,424.2 h12.6 M910.3,424.2 h12.6 M935.4,424.2 h12.6 M960.6,424.2 h12.6 M985.8,424.2 h12.6 M646.7,436.8 h11.8 M671.8,436.8 h11.8 M697,436.8 h11.8 M722.2,436.8 h11.8 M747.3,436.8 h11.8 M772.5,436.8 h11.8 M797.6,436.8 h11.8 M822.8,436.8 h11.8 M848,436.8 h11.8 M873.1,436.8 h11.8 M898.3,436.8 h11.8 M923.4,436.8 h11.8 M948.6,436.8 h11.8 M973.8,436.8 h11.8 M658.7,449.4 h12.6 M683.8,449.4 h12.6 M709,449.4 h12.6 M734.2,449.4 h12.6 M759.3,449.4 h12.6 M784.5,449.4 h12.6 M809.6,449.4 h12.6 M834.8,449.4 h12.6 M860,449.4 h12.6 M885.1,449.4 h12.6 M910.3,449.4 h12.6 M935.4,449.4 h12.6 M960.6,449.4 h12.6 M985.8,449.4 h12.6 M646.7,462 h11.8 M671.8,462 h11.8 M697,462 h11.8 M722.2,462 h11.8 M747.3,462 h11.8 M772.5,462 h11.8 M797.6,462 h11.8 M822.8,462 h11.8 M848,462 h11.8 M873.1,462 h11.8 M898.3,462 h11.8 M923.4,462 h11.8 M948.6,462 h11.8 M973.8,462 h11.8 M658.7,474.6 h12.6 M683.8,474.6 h12.6 M709,474.6 h12.6 M734.2,474.6 h12.6 M759.3,474.6 h12.6 M784.5,474.6 h12.6 M809.6,474.6 h12.6 M834.8,474.6 h12.6 M860,474.6 h12.6 M885.1,474.6 h12.6 M910.3,474.6 h12.6 M935.4,474.6 h12.6 M960.6,474.6 h12.6 M985.8,474.6 h12.6 M646.7,487.2 h11.8 M671.8,487.2 h11.8 M697,487.2 h11.8 M722.2,487.2 h11.8 M747.3,487.2 h11.8 M772.5,487.2 h11.8 M797.6,487.2 h11.8 M822.8,487.2 h11.8 M848,487.2 h11.8 M873.1,487.2 h11.8 M898.3,487.2 h11.8 M923.4,487.2 h11.8 M948.6,487.2 h11.8 M973.8,487.2 h11.8 M658.7,499.8 h12.6 M683.8,499.8 h12.6 M709,499.8 h12.6 M734.2,499.8 h12.6 M759.3,499.8 h12.6 M784.5,499.8 h12.6 M809.6,499.8 h12.6 M834.8,499.8 h12.6 M860,499.8 h12.6 M885.1,499.8 h12.6 M910.3,499.8 h12.6 M935.4,499.8 h12.6 M960.6,499.8 h12.6 M985.8,499.8 h12.6 M646.7,512.4 h11.8 M671.8,512.4 h11.8 M697,512.4 h11.8 M722.2,512.4 h11.8 M747.3,512.4 h11.8 M772.5,512.4 h11.8 M797.6,512.4 h11.8 M822.8,512.4 h11.8 M848,512.4 h11.8 M873.1,512.4 h11.8 M898.3,512.4 h11.8 M923.4,512.4 h11.8 M948.6,512.4 h11.8 M973.8,512.4 h11.8 M658.7,525 h12.6 M683.8,525 h12.6 M709,525 h12.6 M734.2,525 h12.6 M759.3,525 h12.6 M784.5,525 h12.6 M809.6,525 h12.6 M834.8,525 h12.6 M860,525 h12.6 M885.1,525 h12.6 M910.3,525 h12.6 M935.4,525 h12.6 M960.6,525 h12.6 M985.8,525 h12.6 M646.7,537.6 h11.8 M671.8,537.6 h11.8 M697,537.6 h11.8 M722.2,537.6 h11.8 M747.3,537.6 h11.8 M772.5,537.6 h11.8 M797.6,537.6 h11.8 M822.8,537.6 h11.8 M848,537.6 h11.8 M873.1,537.6 h11.8 M898.3,537.6 h11.8 M923.4,537.6 h11.8 M948.6,537.6 h11.8 M973.8,537.6 h11.8 M658.7,550.2 h12.6 M683.8,550.2 h12.6 M709,550.2 h12.6 M734.2,550.2 h12.6 M759.3,550.2 h12.6 M784.5,550.2 h12.6 M809.6,550.2 h12.6 M834.8,550.2 h12.6 M860,550.2 h12.6 M885.1,550.2 h12.6 M910.3,550.2 h12.6 M935.4,550.2 h12.6 M960.6,550.2 h12.6 M985.8,550.2 h12.6 M646.7,562.8 h11.8 M671.8,562.8 h11.8 M697,562.8 h11.8 M722.2,562.8 h11.8 M747.3,562.8 h11.8 M772.5,562.8 h11.8 M797.6,562.8 h11.8 M822.8,562.8 h11.8 M848,562.8 h11.8 M873.1,562.8 h11.8 M898.3,562.8 h11.8 M923.4,562.8 h11.8 M948.6,562.8 h11.8 M973.8,562.8 h11.8 M658.7,575.4 h12.6 M683.8,575.4 h12.6 M709,575.4 h12.6 M734.2,575.4 h12.6 M759.3,575.4 h12.6 M784.5,575.4 h12.6 M809.6,575.4 h12.6 M834.8,575.4 h12.6 M860,575.4 h12.6 M885.1,575.4 h12.6 M910.3,575.4 h12.6 M935.4,575.4 h12.6 M960.6,575.4 h12.6 M985.8,575.4 h12.6 M646.7,588 h11.8 M671.8,588 h11.8 M697,588 h11.8 M722.2,588 h11.8 M747.3,588 h11.8 M772.5,588 h11.8 M797.6,588 h11.8 M822.8,588 h11.8 M848,588 h11.8 M873.1,588 h11.8 M898.3,588 h11.8 M923.4,588 h11.8 M948.6,588 h11.8 M973.8,588 h11.8 M658.7,600.6 h12.6 M683.8,600.6 h12.6 M709,600.6 h12.6 M734.2,600.6 h12.6 M759.3,600.6 h12.6 M784.5,600.6 h12.6 M809.6,600.6 h12.6 M834.8,600.6 h12.6 M860,600.6 h12.6 M885.1,600.6 h12.6 M910.3,600.6 h12.6 M935.4,600.6 h12.6 M960.6,600.6 h12.6 M985.8,600.6 h12.6 M646.7,613.2 h11.8 M671.8,613.2 h11.8 M697,613.2 h11.8 M722.2,613.2 h11.8 M747.3,613.2 h11.8 M772.5,613.2 h11.8 M797.6,613.2 h11.8 M822.8,613.2 h11.8 M848,613.2 h11.8 M873.1,613.2 h11.8 M898.3,613.2 h11.8 M923.4,613.2 h11.8 M948.6,613.2 h11.8 M973.8,613.2 h11.8 M658.7,625.8 h12.6 M683.8,625.8 h12.6 M709,625.8 h12.6 M734.2,625.8 h12.6 M759.3,625.8 h12.6 M784.5,625.8 h12.6 M809.6,625.8 h12.6 M834.8,625.8 h12.6 M860,625.8 h12.6 M885.1,625.8 h12.6 M910.3,625.8 h12.6 M935.4,625.8 h12.6 M960.6,625.8 h12.6 M985.8,625.8 h12.6 M646.7,638.4 h11.8 M671.8,638.4 h11.8 M697,638.4 h11.8 M722.2,638.4 h11.8 M747.3,638.4 h11.8 M772.5,638.4 h11.8 M797.6,638.4 h11.8 M822.8,638.4 h11.8 M848,638.4 h11.8 M873.1,638.4 h11.8 M898.3,638.4 h11.8 M923.4,638.4 h11.8 M948.6,638.4 h11.8 M973.8,638.4 h11.8 M658.7,651 h12.6 M683.8,651 h12.6 M709,651 h12.6 M734.2,651 h12.6 M759.3,651 h12.6 M784.5,651 h12.6 M809.6,651 h12.6 M834.8,651 h12.6 M860,651 h12.6 M885.1,651 h12.6 M910.3,651 h12.6 M935.4,651 h12.6 M960.6,651 h12.6 M985.8,651 h12.6 M646.7,663.6 h11.8 M671.8,663.6 h11.8 M697,663.6 h11.8 M722.2,663.6 h11.8 M747.3,663.6 h11.8 M772.5,663.6 h11.8 M797.6,663.6 h11.8 M822.8,663.6 h11.8 M848,663.6 h11.8 M873.1,663.6 h11.8 M898.3,663.6 h11.8 M923.4,663.6 h11.8 M948.6,663.6 h11.8 M973.8,663.6 h11.8 M658.7,676.2 h12.6 M683.8,676.2 h12.6 M709,676.2 h12.6 M734.2,676.2 h12.6 M759.3,676.2 h12.6 M784.5,676.2 h12.6 M809.6,676.2 h12.6 M834.8,676.2 h12.6 M860,676.2 h12.6 M885.1,676.2 h12.6 M910.3,676.2 h12.6 M935.4,676.2 h12.6 M960.6,676.2 h12.6 M985.8,676.2 h12.6"/>
<path clip-path="url(#cA2R)" d="M1061.2,525 h12.6 M1086.4,525 h12.6 M1111.6,525 h12.6 M1136.7,525 h12.6 M1161.9,525 h12.6 M1187,525 h12.6 M1212.2,525 h12.6 M1237.4,525 h12.6 M1262.5,525 h12.6 M1287.7,525 h12.6 M1312.8,525 h12.6 M1049.2,537.6 h11.8 M1074.4,537.6 h11.8 M1099.6,537.6 h11.8 M1124.7,537.6 h11.8 M1149.9,537.6 h11.8 M1175,537.6 h11.8 M1200.2,537.6 h11.8 M1225.4,537.6 h11.8 M1250.5,537.6 h11.8 M1275.7,537.6 h11.8 M1300.8,537.6 h11.8 M1326,537.6 h11.8 M1061.2,550.2 h12.6 M1086.4,550.2 h12.6 M1111.6,550.2 h12.6 M1136.7,550.2 h12.6 M1161.9,550.2 h12.6 M1187,550.2 h12.6 M1212.2,550.2 h12.6 M1237.4,550.2 h12.6 M1262.5,550.2 h12.6 M1287.7,550.2 h12.6 M1312.8,550.2 h12.6 M1049.2,562.8 h11.8 M1074.4,562.8 h11.8 M1099.6,562.8 h11.8 M1124.7,562.8 h11.8 M1149.9,562.8 h11.8 M1175,562.8 h11.8 M1200.2,562.8 h11.8 M1225.4,562.8 h11.8 M1250.5,562.8 h11.8 M1275.7,562.8 h11.8 M1300.8,562.8 h11.8 M1326,562.8 h11.8 M1061.2,575.4 h12.6 M1086.4,575.4 h12.6 M1111.6,575.4 h12.6 M1136.7,575.4 h12.6 M1161.9,575.4 h12.6 M1187,575.4 h12.6 M1212.2,575.4 h12.6 M1237.4,575.4 h12.6 M1262.5,575.4 h12.6 M1287.7,575.4 h12.6 M1312.8,575.4 h12.6 M1049.2,588 h11.8 M1074.4,588 h11.8 M1099.6,588 h11.8 M1124.7,588 h11.8 M1149.9,588 h11.8 M1175,588 h11.8 M1200.2,588 h11.8 M1225.4,588 h11.8 M1250.5,588 h11.8 M1275.7,588 h11.8 M1300.8,588 h11.8 M1326,588 h11.8 M1061.2,600.6 h12.6 M1086.4,600.6 h12.6 M1111.6,600.6 h12.6 M1136.7,600.6 h12.6 M1161.9,600.6 h12.6 M1187,600.6 h12.6 M1212.2,600.6 h12.6 M1237.4,600.6 h12.6 M1262.5,600.6 h12.6 M1287.7,600.6 h12.6 M1312.8,600.6 h12.6 M1049.2,613.2 h11.8 M1074.4,613.2 h11.8 M1099.6,613.2 h11.8 M1124.7,613.2 h11.8 M1149.9,613.2 h11.8 M1175,613.2 h11.8 M1200.2,613.2 h11.8 M1225.4,613.2 h11.8 M1250.5,613.2 h11.8 M1275.7,613.2 h11.8 M1300.8,613.2 h11.8 M1326,613.2 h11.8 M1061.2,625.8 h12.6 M1086.4,625.8 h12.6 M1111.6,625.8 h12.6 M1136.7,625.8 h12.6 M1161.9,625.8 h12.6 M1187,625.8 h12.6 M1212.2,625.8 h12.6 M1237.4,625.8 h12.6 M1262.5,625.8 h12.6 M1287.7,625.8 h12.6 M1312.8,625.8 h12.6 M1049.2,638.4 h11.8 M1074.4,638.4 h11.8 M1099.6,638.4 h11.8 M1124.7,638.4 h11.8 M1149.9,638.4 h11.8 M1175,638.4 h11.8 M1200.2,638.4 h11.8 M1225.4,638.4 h11.8 M1250.5,638.4 h11.8 M1275.7,638.4 h11.8 M1300.8,638.4 h11.8 M1326,638.4 h11.8 M1061.2,651 h12.6 M1086.4,651 h12.6 M1111.6,651 h12.6 M1136.7,651 h12.6 M1161.9,651 h12.6 M1187,651 h12.6 M1212.2,651 h12.6 M1237.4,651 h12.6 M1262.5,651 h12.6 M1287.7,651 h12.6 M1312.8,651 h12.6 M1049.2,663.6 h11.8 M1074.4,663.6 h11.8 M1099.6,663.6 h11.8 M1124.7,663.6 h11.8 M1149.9,663.6 h11.8 M1175,663.6 h11.8 M1200.2,663.6 h11.8 M1225.4,663.6 h11.8 M1250.5,663.6 h11.8 M1275.7,663.6 h11.8 M1300.8,663.6 h11.8 M1326,663.6 h11.8 M1061.2,676.2 h12.6 M1086.4,676.2 h12.6 M1111.6,676.2 h12.6 M1136.7,676.2 h12.6 M1161.9,676.2 h12.6 M1187,676.2 h12.6 M1212.2,676.2 h12.6 M1237.4,676.2 h12.6 M1262.5,676.2 h12.6 M1287.7,676.2 h12.6 M1312.8,676.2 h12.6"/>
<path clip-path="url(#cA4)" d="M771.3,310.9 h13 M777.8,304.9 v12 M821.6,310.9 h13 M828.1,304.9 v12 M871.9,310.9 h13 M878.4,304.9 v12 M922.2,310.9 h13 M928.7,304.9 v12 M972.5,310.9 h13 M979,304.9 v12 M1022.8,310.9 h13 M1029.3,304.9 v12 M1073.1,310.9 h13 M1079.6,304.9 v12 M1123.4,310.9 h13 M1129.9,304.9 v12 M1173.7,310.9 h13 M1180.2,304.9 v12 M1224,310.9 h13 M1230.5,304.9 v12 M796.5,336 h13 M803,330 v12 M846.8,336 h13 M853.2,330 v12 M897,336 h13 M903.5,330 v12 M947.4,336 h13 M953.9,330 v12 M997.6,336 h13 M1004.1,330 v12 M1048,336 h13 M1054.5,330 v12 M1098.2,336 h13 M1104.8,330 v12 M1148.5,336 h13 M1155,330 v12 M1198.8,336 h13 M1205.3,330 v12 M1249.2,336 h13 M1255.7,330 v12 M771.3,361.2 h13 M777.8,355.2 v12 M821.6,361.2 h13 M828.1,355.2 v12 M871.9,361.2 h13 M878.4,355.2 v12 M922.2,361.2 h13 M928.7,355.2 v12 M972.5,361.2 h13 M979,355.2 v12 M1022.8,361.2 h13 M1029.3,355.2 v12 M1073.1,361.2 h13 M1079.6,355.2 v12 M1123.4,361.2 h13 M1129.9,355.2 v12 M1173.7,361.2 h13 M1180.2,355.2 v12 M1224,361.2 h13 M1230.5,355.2 v12 M796.5,386.4 h13 M803,380.4 v12 M846.8,386.4 h13 M853.2,380.4 v12 M897,386.4 h13 M903.5,380.4 v12 M947.4,386.4 h13 M953.9,380.4 v12 M997.6,386.4 h13 M1004.1,380.4 v12 M1048,386.4 h13 M1054.5,380.4 v12 M1098.2,386.4 h13 M1104.8,380.4 v12 M1148.5,386.4 h13 M1155,380.4 v12 M1198.8,386.4 h13 M1205.3,380.4 v12 M1249.2,386.4 h13 M1255.7,380.4 v12 M771.3,411.5 h13 M777.8,405.5 v12 M821.6,411.5 h13 M828.1,405.5 v12 M871.9,411.5 h13 M878.4,405.5 v12 M922.2,411.5 h13 M928.7,405.5 v12 M972.5,411.5 h13 M979,405.5 v12 M1022.8,411.5 h13 M1029.3,405.5 v12 M1073.1,411.5 h13 M1079.6,405.5 v12 M1123.4,411.5 h13 M1129.9,405.5 v12 M1173.7,411.5 h13 M1180.2,405.5 v12 M1224,411.5 h13 M1230.5,405.5 v12 M796.5,436.6 h13 M803,430.6 v12 M846.8,436.6 h13 M853.2,430.6 v12 M897,436.6 h13 M903.5,430.6 v12 M947.4,436.6 h13 M953.9,430.6 v12 M997.6,436.6 h13 M1004.1,430.6 v12 M1048,436.6 h13 M1054.5,430.6 v12 M1098.2,436.6 h13 M1104.8,430.6 v12 M1148.5,436.6 h13 M1155,430.6 v12 M1198.8,436.6 h13 M1205.3,430.6 v12 M1249.2,436.6 h13 M1255.7,430.6 v12 M771.3,461.8 h13 M777.8,455.8 v12 M821.6,461.8 h13 M828.1,455.8 v12 M871.9,461.8 h13 M878.4,455.8 v12 M922.2,461.8 h13 M928.7,455.8 v12 M972.5,461.8 h13 M979,455.8 v12 M1022.8,461.8 h13 M1029.3,455.8 v12 M1073.1,461.8 h13 M1079.6,455.8 v12 M1123.4,461.8 h13 M1129.9,455.8 v12 M1173.7,461.8 h13 M1180.2,455.8 v12 M1224,461.8 h13 M1230.5,455.8 v12 M796.5,486.9 h13 M803,480.9 v12 M846.8,486.9 h13 M853.2,480.9 v12 M897,486.9 h13 M903.5,480.9 v12 M947.4,486.9 h13 M953.9,480.9 v12 M997.6,486.9 h13 M1004.1,480.9 v12 M1048,486.9 h13 M1054.5,480.9 v12 M1098.2,486.9 h13 M1104.8,480.9 v12 M1148.5,486.9 h13 M1155,480.9 v12 M1198.8,486.9 h13 M1205.3,480.9 v12 M1249.2,486.9 h13 M1255.7,480.9 v12 M771.3,512.1 h13 M777.8,506.1 v12 M821.6,512.1 h13 M828.1,506.1 v12 M871.9,512.1 h13 M878.4,506.1 v12 M922.2,512.1 h13 M928.7,506.1 v12 M972.5,512.1 h13 M979,506.1 v12 M1022.8,512.1 h13 M1029.3,506.1 v12 M1073.1,512.1 h13 M1079.6,506.1 v12 M1123.4,512.1 h13 M1129.9,506.1 v12 M1173.7,512.1 h13 M1180.2,506.1 v12 M1224,512.1 h13 M1230.5,506.1 v12 M796.5,537.2 h13 M803,531.2 v12 M846.8,537.2 h13 M853.2,531.2 v12 M897,537.2 h13 M903.5,531.2 v12 M947.4,537.2 h13 M953.9,531.2 v12 M997.6,537.2 h13 M1004.1,531.2 v12 M1048,537.2 h13 M1054.5,531.2 v12 M1098.2,537.2 h13 M1104.8,531.2 v12 M1148.5,537.2 h13 M1155,531.2 v12 M1198.8,537.2 h13 M1205.3,531.2 v12 M1249.2,537.2 h13 M1255.7,531.2 v12 M771.3,562.4 h13 M777.8,556.4 v12 M821.6,562.4 h13 M828.1,556.4 v12 M871.9,562.4 h13 M878.4,556.4 v12 M922.2,562.4 h13 M928.7,556.4 v12 M972.5,562.4 h13 M979,556.4 v12 M1022.8,562.4 h13 M1029.3,556.4 v12 M1073.1,562.4 h13 M1079.6,556.4 v12 M1123.4,562.4 h13 M1129.9,556.4 v12 M1173.7,562.4 h13 M1180.2,556.4 v12 M1224,562.4 h13 M1230.5,556.4 v12 M796.5,587.5 h13 M803,581.5 v12 M846.8,587.5 h13 M853.2,581.5 v12 M897,587.5 h13 M903.5,581.5 v12 M947.4,587.5 h13 M953.9,581.5 v12 M997.6,587.5 h13 M1004.1,581.5 v12 M1048,587.5 h13 M1054.5,581.5 v12 M1098.2,587.5 h13 M1104.8,581.5 v12 M1148.5,587.5 h13 M1155,581.5 v12 M1198.8,587.5 h13 M1205.3,581.5 v12 M1249.2,587.5 h13 M1255.7,581.5 v12 M771.3,612.7 h13 M777.8,606.7 v12 M821.6,612.7 h13 M828.1,606.7 v12 M871.9,612.7 h13 M878.4,606.7 v12 M922.2,612.7 h13 M928.7,606.7 v12 M972.5,612.7 h13 M979,606.7 v12 M1022.8,612.7 h13 M1029.3,606.7 v12 M1073.1,612.7 h13 M1079.6,606.7 v12 M1123.4,612.7 h13 M1129.9,606.7 v12 M1173.7,612.7 h13 M1180.2,606.7 v12 M1224,612.7 h13 M1230.5,606.7 v12 M796.5,637.8 h13 M803,631.8 v12 M846.8,637.8 h13 M853.2,631.8 v12 M897,637.8 h13 M903.5,631.8 v12 M947.4,637.8 h13 M953.9,631.8 v12 M997.6,637.8 h13 M1004.1,631.8 v12 M1048,637.8 h13 M1054.5,631.8 v12 M1098.2,637.8 h13 M1104.8,631.8 v12 M1148.5,637.8 h13 M1155,631.8 v12 M1198.8,637.8 h13 M1205.3,631.8 v12 M1249.2,637.8 h13 M1255.7,631.8 v12 M771.3,663 h13 M777.8,657 v12 M821.6,663 h13 M828.1,657 v12 M871.9,663 h13 M878.4,657 v12 M922.2,663 h13 M928.7,657 v12 M972.5,663 h13 M979,657 v12 M1022.8,663 h13 M1029.3,657 v12 M1073.1,663 h13 M1079.6,657 v12 M1123.4,663 h13 M1129.9,657 v12 M1173.7,663 h13 M1180.2,657 v12 M1224,663 h13 M1230.5,657 v12 M796.5,688.1 h13 M803,682.1 v12 M846.8,688.1 h13 M853.2,682.1 v12 M897,688.1 h13 M903.5,682.1 v12 M947.4,688.1 h13 M953.9,682.1 v12 M997.6,688.1 h13 M1004.1,682.1 v12 M1048,688.1 h13 M1054.5,682.1 v12 M1098.2,688.1 h13 M1104.8,682.1 v12 M1148.5,688.1 h13 M1155,682.1 v12 M1198.8,688.1 h13 M1205.3,682.1 v12 M1249.2,688.1 h13 M1255.7,682.1 v12 M771.3,713.3 h13 M777.8,707.3 v12 M821.6,713.3 h13 M828.1,707.3 v12 M871.9,713.3 h13 M878.4,707.3 v12 M922.2,713.3 h13 M928.7,707.3 v12 M972.5,713.3 h13 M979,707.3 v12 M1022.8,713.3 h13 M1029.3,707.3 v12 M1073.1,713.3 h13 M1079.6,707.3 v12 M1123.4,713.3 h13 M1129.9,707.3 v12 M1173.7,713.3 h13 M1180.2,707.3 v12 M1224,713.3 h13 M1230.5,707.3 v12 M796.5,738.4 h13 M803,732.4 v12 M846.8,738.4 h13 M853.2,732.4 v12 M897,738.4 h13 M903.5,732.4 v12 M947.4,738.4 h13 M953.9,732.4 v12 M997.6,738.4 h13 M1004.1,732.4 v12 M1048,738.4 h13 M1054.5,732.4 v12 M1098.2,738.4 h13 M1104.8,732.4 v12 M1148.5,738.4 h13 M1155,732.4 v12 M1198.8,738.4 h13 M1205.3,732.4 v12 M1249.2,738.4 h13 M1255.7,732.4 v12"/>
</g>
<g fill="none" shape-rendering="crispEdges">
<rect x="797" y="389" width="70.5" height="92" fill="none" stroke="#000" stroke-width="1.5"/>
<path d="M797,393.4 L867.5,393.4" stroke="#000" stroke-width="1.2"/>
<path d="M797,396.7 L867.5,396.7" stroke="#000" stroke-width="1.2"/>
<path d="M797,403.2 L867.5,403.2" stroke="#000" stroke-width="2.6"/>
<path d="M797,409.2 L867.5,409.2" stroke="#000" stroke-width="1"/>
<path d="M797,411 L867.5,411" stroke="#000" stroke-width="1.6"/>
<path d="M797,418.4 L867.5,418.4" stroke="#000" stroke-width="2.6"/>
<path d="M797,427 L867.5,427" stroke="#000" stroke-width="1.4"/>
<path d="M797,429.5 L867.5,429.5" stroke="#000" stroke-width="1.4"/>
<path d="M797,437.8 L867.5,437.8" stroke="#000" stroke-width="3"/>
<path d="M797,448.2 L867.5,448.2" stroke="#000" stroke-width="4"/>
<path d="M797,458.3 L867.5,458.3" stroke="#000" stroke-width="1.2"/>
<path d="M797,460.2 L867.5,460.2" stroke="#000" stroke-width="1.2"/>
<path d="M797,469.2 L867.5,469.2" stroke="#000" stroke-width="1.6"/>
<path d="M797,471.8 L867.5,471.8" stroke="#000" stroke-width="1.2"/>
<path d="M797,479.8 L867.5,479.8" stroke="#000" stroke-width="2"/>
<path d="M832,386 L832,486" stroke="#000" stroke-width="2.2"/>
<path d="M797,384 L797,389" stroke="#000" stroke-width="1.2"/>
<path d="M867.5,384 L867.5,389" stroke="#000" stroke-width="1.2"/>
<path d="M822,487 L822,620" stroke="#000" stroke-width="2"/>
<path d="M842,487 L842,620" stroke="#000" stroke-width="2"/>
<path d="M890,487 L890,620" stroke="#000" stroke-width="2"/>
<path d="M910.5,487 L910.5,620" stroke="#000" stroke-width="2"/>
<path d="M866,510 L866,597" stroke="#000" stroke-width="2"/>
<path d="M799,510 L932,510" stroke="#000" stroke-width="2"/>
<path d="M799,530 L932,530" stroke="#000" stroke-width="2"/>
<path d="M799,576 L932,576" stroke="#000" stroke-width="2"/>
<path d="M799,597 L932,597" stroke="#000" stroke-width="2"/>
<path d="M822,553.5 L910,553.5" stroke="#000" stroke-width="1.5"/>
<path d="M801,487 L801,620" stroke="#000" stroke-width="1.2"/>
<path d="M929.5,487 L929.5,620" stroke="#000" stroke-width="1.2"/>
<path d="M880,623 L880,754" stroke="#000" stroke-width="2"/>
<path d="M887,623 L887,754" stroke="#000" stroke-width="2"/>
<path d="M895,623 L895,754" stroke="#000" stroke-width="2"/>
<path d="M904,623 L904,754" stroke="#000" stroke-width="2"/>
<path d="M913,623 L913,754" stroke="#000" stroke-width="2"/>
<path d="M919.5,623 L919.5,754" stroke="#000" stroke-width="2"/>
<path d="M868,646 L931,646" stroke="#000" stroke-width="2"/>
<path d="M868,675 L931,675" stroke="#000" stroke-width="2"/>
<path d="M868,704 L931,704" stroke="#000" stroke-width="2"/>
<path d="M868,732 L931,732" stroke="#000" stroke-width="2"/>
<path d="M886.6,633.1 L912.8,633.1" stroke="#000" stroke-width="1.5"/>
<path d="M886.6,660.8 L912.8,660.8" stroke="#000" stroke-width="1.5"/>
<path d="M886.6,689 L912.8,689" stroke="#000" stroke-width="1.5"/>
<path d="M886.6,717.7 L912.8,717.7" stroke="#000" stroke-width="1.5"/>
<path d="M886.6,745 L912.8,745" stroke="#000" stroke-width="1.5"/>
<path d="M956.5,487 L956.5,552" stroke="#000" stroke-width="3"/>
<path d="M956.5,487 L956.5,552" stroke="#666" stroke-width="1"/>
<path d="M980.5,487 L980.5,552" stroke="#000" stroke-width="3"/>
<path d="M980.5,487 L980.5,552" stroke="#666" stroke-width="1"/>
<path d="M1004.5,487 L1004.5,552" stroke="#000" stroke-width="3"/>
<path d="M1004.5,487 L1004.5,552" stroke="#666" stroke-width="1"/>
<path d="M1028.5,487 L1028.5,552" stroke="#000" stroke-width="3"/>
<path d="M1028.5,487 L1028.5,552" stroke="#666" stroke-width="1"/>
<path d="M1051.5,487 L1051.5,552" stroke="#000" stroke-width="3"/>
<path d="M1051.5,487 L1051.5,552" stroke="#666" stroke-width="1"/>
<path d="M1075.5,487 L1075.5,552" stroke="#000" stroke-width="3"/>
<path d="M1075.5,487 L1075.5,552" stroke="#666" stroke-width="1"/>
<path d="M973.4,549 L973.4,559" stroke="#000" stroke-width="2.4"/>
<path d="M1015.4,549 L1015.4,559" stroke="#000" stroke-width="2.4"/>
<path d="M1057.6,549 L1057.6,559" stroke="#000" stroke-width="2.4"/>
<path d="M1100.4,488 L1100.4,552" stroke="#000" stroke-width="1.6"/>
<path d="M1108.2,488 L1108.2,552" stroke="#000" stroke-width="1.6"/>
<path d="M1116.6,488 L1116.6,552" stroke="#000" stroke-width="1.6"/>
<path d="M1124.4,488 L1124.4,552" stroke="#000" stroke-width="1.6"/>
<path d="M1132.1,488 L1132.1,552" stroke="#000" stroke-width="1.6"/>
<path d="M1140.3,488 L1140.3,552" stroke="#000" stroke-width="1.6"/>
<path d="M1148.3,488 L1148.3,552" stroke="#000" stroke-width="1.6"/>
<path d="M1156.4,488 L1156.4,552" stroke="#000" stroke-width="1.6"/>
<path d="M1163.8,488 L1163.8,552" stroke="#000" stroke-width="1.6"/>
<path d="M1099,499 H1165 M1099,540.7 H1165" stroke="#000" stroke-width="1.6" stroke-dasharray="3,3"/>
<rect x="1093" y="316.5" width="78" height="51.5" fill="none" stroke="#000" stroke-width="2.2"/>
<path d="M1127.8,319 L1122.7,339.5 L1127.5,364 M1140.8,319 L1127.5,364" stroke="#000" stroke-width="1" stroke-dasharray="2,1.5" shape-rendering="auto"/>
<path d="M1097.7,368 L1097.7,485.5" stroke="#000" stroke-width="3"/>
<path d="M1097.7,368 L1097.7,485.5" stroke="#5e5e5e" stroke-width="2"/>
<path d="M1166,368 L1166,485.5" stroke="#000" stroke-width="3"/>
<path d="M1166,368 L1166,485.5" stroke="#5e5e5e" stroke-width="2"/>
<ellipse cx="1097.7" cy="407" rx="1.8" ry="2.6" fill="#222" shape-rendering="auto"/>
<ellipse cx="1097.7" cy="446" rx="1.8" ry="2.6" fill="#222" shape-rendering="auto"/>
<ellipse cx="1092.5" cy="334" rx="1.6" ry="3.5" fill="#222" shape-rendering="auto"/>
<ellipse cx="1172" cy="338" rx="1.6" ry="3.5" fill="#222" shape-rendering="auto"/>
<ellipse cx="1117" cy="827.5" rx="5" ry="2" fill="#111" shape-rendering="auto"/>
<ellipse cx="1144" cy="827.5" rx="7" ry="2" fill="#111" shape-rendering="auto"/>
<rect x="1166" y="575.4" width="3" height="8" fill="#111"/>
<rect x="1166" y="596.6" width="3" height="8" fill="#111"/>
<rect x="1166" y="618.3" width="3" height="8" fill="#111"/>
<rect x="1166" y="640.3" width="3" height="8" fill="#111"/>
<rect x="1166" y="661.5" width="3" height="8" fill="#111"/>
<rect x="1166" y="683.6" width="3" height="8" fill="#111"/>
<rect x="1166" y="704.8" width="3" height="8" fill="#111"/>
<rect x="1166" y="726.9" width="3" height="8" fill="#111"/>
<ellipse cx="744.7" cy="569.2" rx="2.5" ry="3.5" fill="#000" stroke="#2a2a2a" stroke-width="0.8" shape-rendering="auto"/>
<ellipse cx="762.9" cy="575.5" rx="2.5" ry="3.5" fill="#000" stroke="#2a2a2a" stroke-width="0.8" shape-rendering="auto"/>
<ellipse cx="786.1" cy="574.8" rx="2.5" ry="3.5" fill="#000" stroke="#2a2a2a" stroke-width="0.8" shape-rendering="auto"/>
<ellipse cx="756.6" cy="603.7" rx="2.5" ry="3.5" fill="#000" stroke="#2a2a2a" stroke-width="0.8" shape-rendering="auto"/>
<ellipse cx="773.8" cy="599" rx="2.5" ry="3.5" fill="#000" stroke="#2a2a2a" stroke-width="0.8" shape-rendering="auto"/>
<rect x="1099.4" y="575.4" width="65.3" height="8.1" fill="#222"/>
<rect x="1099.4" y="596.6" width="65.3" height="8.1" fill="#222"/>
<rect x="1099.4" y="618.3" width="65.3" height="7.9" fill="#222"/>
<rect x="1099.4" y="640.3" width="65.3" height="8" fill="#222"/>
<rect x="1099.4" y="661.5" width="65.3" height="8.5" fill="#222"/>
<rect x="1099.4" y="683.6" width="65.3" height="7.9" fill="#222"/>
<rect x="1099.4" y="704.8" width="65.3" height="8.3" fill="#222"/>
<rect x="1099.4" y="726.9" width="65.3" height="7.9" fill="#222"/>
<path d="M868,764.7 L931,764.7" stroke="#000" stroke-width="1.6"/>
<path d="M868,773.2 L931,773.2" stroke="#000" stroke-width="1.6"/>
<path d="M868,781.7 L931,781.7" stroke="#000" stroke-width="1.6"/>
<path d="M868,789.5 L931,789.5" stroke="#000" stroke-width="1.6"/>
<path d="M868,797.2 L931,797.2" stroke="#000" stroke-width="1.6"/>
<path d="M868,805 L931,805" stroke="#000" stroke-width="1.6"/>
<path d="M868,812.6 L931,812.6" stroke="#000" stroke-width="1.6"/>
<path d="M879,757 V822 M920.7,757 V822" stroke="#000" stroke-width="1.4" stroke-dasharray="4,3"/>
<path d="M956,757 L956,822" stroke="#000" stroke-width="2"/>
<path d="M976,757 L976,822" stroke="#000" stroke-width="2"/>
<path d="M996,757 L996,822" stroke="#000" stroke-width="2"/>
<path d="M1016,757 L1016,822" stroke="#000" stroke-width="2"/>
<path d="M1036,757 L1036,822" stroke="#000" stroke-width="2"/>
<path d="M1056,757 L1056,822" stroke="#000" stroke-width="2"/>
<path d="M1076,757 L1076,822" stroke="#000" stroke-width="2"/>
<path d="M935,776.3 L1096,776.3" stroke="#000" stroke-width="1.6"/>
<path d="M935,784.8 L1096,784.8" stroke="#000" stroke-width="1.6"/>
<path d="M935,793.3 L1096,793.3" stroke="#000" stroke-width="1.6"/>
<path d="M935,801.8 L1096,801.8" stroke="#000" stroke-width="1.6"/>
<path d="M947,776.3 L947,801.8" stroke="#000" stroke-width="1.5"/>
<path d="M966.3,776.3 L966.3,801.8" stroke="#000" stroke-width="1.5"/>
<path d="M986.4,776.3 L986.4,801.8" stroke="#000" stroke-width="1.5"/>
<path d="M1005.7,776.3 L1005.7,801.8" stroke="#000" stroke-width="1.5"/>
<path d="M1025.8,776.3 L1025.8,801.8" stroke="#000" stroke-width="1.5"/>
<path d="M1045.9,776.3 L1045.9,801.8" stroke="#000" stroke-width="1.5"/>
<path d="M1066,776.3 L1066,801.8" stroke="#000" stroke-width="1.5"/>
<path d="M1086,776.3 L1086,801.8" stroke="#000" stroke-width="1.5"/>
<path d="M1100,764.8 L1232,764.8" stroke="#000" stroke-width="1.7"/>
<path d="M1100,772.8 L1232,772.8" stroke="#000" stroke-width="1.7"/>
<path d="M1100,780.7 L1232,780.7" stroke="#000" stroke-width="1.7"/>
<path d="M1100,788.8 L1232,788.8" stroke="#000" stroke-width="1.7"/>
<path d="M1100,796.9 L1232,796.9" stroke="#000" stroke-width="1.7"/>
<path d="M1100,804.8 L1232,804.8" stroke="#000" stroke-width="1.7"/>
<path d="M1100,812.8 L1232,812.8" stroke="#000" stroke-width="1.7"/>
<path d="M1110.9,757 V822 M1153,757 V822 M1178.9,757 V822 M1220.7,757 V822" stroke="#000" stroke-width="1.5" stroke-dasharray="4,3"/>
<path d="M1233.5,788.5 L1312,788.5" stroke="#333" stroke-width="1"/>
<rect x="1233.5" y="759" width="78.5" height="60" fill="none" stroke="#000" stroke-width="1"/>
<path d="M865,823.5 A34.75,36.5 0 0 0 934.5,823.5" stroke="#000" stroke-width="3.6" shape-rendering="auto"/><path d="M865,823.5 A34.75,36.5 0 0 0 934.5,823.5" stroke="#555" stroke-width="1.6" shape-rendering="auto"/>
<path d="M797.9,485.7 L866,485.7" stroke="#000" stroke-width="4"/>
<path d="M797.9,485.7 L866,485.7" stroke="#5e5e5e" stroke-width="2"/>
<path d="M866,485.7 L933.2,485.7" stroke="#000" stroke-width="4"/>
<path d="M866,485.7 L933.2,485.7" stroke="#5e5e5e" stroke-width="2"/>
<path d="M933.2,485.7 L1098,485.7" stroke="#000" stroke-width="4"/>
<path d="M933.2,485.7 L1098,485.7" stroke="#5e5e5e" stroke-width="2"/>
<path d="M1098,485.7 L1166,485.7" stroke="#000" stroke-width="4"/>
<path d="M1098,485.7 L1166,485.7" stroke="#5e5e5e" stroke-width="2"/>
<path d="M797.9,485.7 L797.9,620.9" stroke="#000" stroke-width="4"/>
<path d="M797.9,485.7 L797.9,620.9" stroke="#5e5e5e" stroke-width="2"/>
<path d="M933.2,485.7 L933.2,620.9" stroke="#000" stroke-width="4"/>
<path d="M933.2,485.7 L933.2,620.9" stroke="#5e5e5e" stroke-width="2"/>
<path d="M797.9,620.9 L866,620.9" stroke="#000" stroke-width="4"/>
<path d="M797.9,620.9 L866,620.9" stroke="#5e5e5e" stroke-width="2"/>
<path d="M866,620.9 L933.2,620.9" stroke="#000" stroke-width="4"/>
<path d="M866,620.9 L933.2,620.9" stroke="#5e5e5e" stroke-width="2"/>
<path d="M933.2,553.8 L1098,553.8" stroke="#000" stroke-width="4"/>
<path d="M933.2,553.8 L1098,553.8" stroke="#5e5e5e" stroke-width="2"/>
<path d="M1098,553.8 L1166,553.8" stroke="#000" stroke-width="4"/>
<path d="M1098,553.8 L1166,553.8" stroke="#5e5e5e" stroke-width="2"/>
<path d="M866,620.9 L866,755.2" stroke="#000" stroke-width="4"/>
<path d="M866,620.9 L866,755.2" stroke="#5e5e5e" stroke-width="2"/>
<path d="M933.2,620.9 L933.2,755.2" stroke="#000" stroke-width="4"/>
<path d="M933.2,620.9 L933.2,755.2" stroke="#5e5e5e" stroke-width="2"/>
<path d="M1097.7,553.8 L1097.7,755.2" stroke="#000" stroke-width="4"/>
<path d="M1097.7,553.8 L1097.7,755.2" stroke="#5e5e5e" stroke-width="2"/>
<path d="M1166,553.8 L1166,755.2" stroke="#000" stroke-width="4"/>
<path d="M1166,553.8 L1166,755.2" stroke="#5e5e5e" stroke-width="2"/>
<path d="M866,755.2 L1098.4,755.2" stroke="#000" stroke-width="4"/>
<path d="M866,755.2 L1098.4,755.2" stroke="#5e5e5e" stroke-width="2"/>
<path d="M933.2,823 L1098.4,823" stroke="#000" stroke-width="4"/>
<path d="M933.2,823 L1098.4,823" stroke="#5e5e5e" stroke-width="2"/>
<path d="M933.2,755.2 L933.2,823" stroke="#000" stroke-width="4"/>
<path d="M933.2,755.2 L933.2,823" stroke="#5e5e5e" stroke-width="2"/>
<path d="M1233,755.2 L1233,823" stroke="#000" stroke-width="4"/>
<path d="M1233,755.2 L1233,823" stroke="#5e5e5e" stroke-width="2"/>
<path d="M866,823 L933.2,823" stroke="#000" stroke-width="4"/>
<path d="M866,823 L933.2,823" stroke="#dcdcdc" stroke-width="2"/>
<path d="M1098.4,823 L1233,823" stroke="#000" stroke-width="4"/>
<path d="M1098.4,823 L1233,823" stroke="#dcdcdc" stroke-width="2"/>
<path d="M1098.4,755.2 L1233,755.2" stroke="#000" stroke-width="4"/>
<path d="M1098.4,755.2 L1233,755.2" stroke="#dcdcdc" stroke-width="2"/>
<path d="M866,757 L866,768" stroke="#000" stroke-width="4"/>
<path d="M866,757 L866,768" stroke="#dcdcdc" stroke-width="2"/>
<path d="M866,809 L866,821" stroke="#000" stroke-width="4"/>
<path d="M866,809 L866,821" stroke="#dcdcdc" stroke-width="2"/>
<path d="M1098.4,755.2 L1098.4,823" stroke="#000" stroke-width="4"/>
<path d="M1098.4,755.2 L1098.4,823" stroke="#dcdcdc" stroke-width="2"/>
<path d="M1166,755.2 L1166,823" stroke="#000" stroke-width="4"/>
<path d="M1166,755.2 L1166,823" stroke="#dcdcdc" stroke-width="2"/>
<path d="M1098,485.7 L1098,553.8" stroke="#000" stroke-width="4"/>
<path d="M1098,485.7 L1098,553.8" stroke="#dcdcdc" stroke-width="2"/>
<path d="M1166,485.7 L1166,553.8" stroke="#000" stroke-width="4"/>
<path d="M1166,485.7 L1166,553.8" stroke="#dcdcdc" stroke-width="2"/>
<path d="M1098,553.8 L1166,553.8" stroke="#000" stroke-width="4"/>
<path d="M1098,553.8 L1166,553.8" stroke="#dcdcdc" stroke-width="2"/>
<rect x="793.4" y="481.2" width="9" height="9" fill="#858585" stroke="#2a2a2a" stroke-width="1.2"/>
<rect x="795.4" y="483.2" width="2" height="2" fill="#111"/>
<rect x="798.4" y="486.2" width="2" height="2" fill="#111"/>
<rect x="861.5" y="481.2" width="9" height="9" fill="#858585" stroke="#2a2a2a" stroke-width="1.2"/>
<rect x="863.5" y="483.2" width="2" height="2" fill="#111"/>
<rect x="866.5" y="486.2" width="2" height="2" fill="#111"/>
<rect x="928.7" y="481.2" width="9" height="9" fill="#858585" stroke="#2a2a2a" stroke-width="1.2"/>
<rect x="930.7" y="483.2" width="2" height="2" fill="#111"/>
<rect x="933.7" y="486.2" width="2" height="2" fill="#111"/>
<rect x="1093.5" y="481.2" width="9" height="9" fill="#858585" stroke="#2a2a2a" stroke-width="1.2"/>
<rect x="1095.5" y="483.2" width="2" height="2" fill="#111"/>
<rect x="1098.5" y="486.2" width="2" height="2" fill="#111"/>
<rect x="1161.5" y="481.2" width="9" height="9" fill="#858585" stroke="#2a2a2a" stroke-width="1.2"/>
<rect x="1163.5" y="483.2" width="2" height="2" fill="#111"/>
<rect x="1166.5" y="486.2" width="2" height="2" fill="#111"/>
<rect x="793.4" y="549.3" width="9" height="9" fill="#858585" stroke="#2a2a2a" stroke-width="1.2"/>
<rect x="795.4" y="551.3" width="2" height="2" fill="#111"/>
<rect x="798.4" y="554.3" width="2" height="2" fill="#111"/>
<rect x="928.7" y="549.3" width="9" height="9" fill="#858585" stroke="#2a2a2a" stroke-width="1.2"/>
<rect x="930.7" y="551.3" width="2" height="2" fill="#111"/>
<rect x="933.7" y="554.3" width="2" height="2" fill="#111"/>
<rect x="1093.5" y="549.3" width="9" height="9" fill="#858585" stroke="#2a2a2a" stroke-width="1.2"/>
<rect x="1095.5" y="551.3" width="2" height="2" fill="#111"/>
<rect x="1098.5" y="554.3" width="2" height="2" fill="#111"/>
<rect x="1161.5" y="549.3" width="9" height="9" fill="#858585" stroke="#2a2a2a" stroke-width="1.2"/>
<rect x="1163.5" y="551.3" width="2" height="2" fill="#111"/>
<rect x="1166.5" y="554.3" width="2" height="2" fill="#111"/>
<rect x="793.4" y="616.4" width="9" height="9" fill="#858585" stroke="#2a2a2a" stroke-width="1.2"/>
<rect x="795.4" y="618.4" width="2" height="2" fill="#111"/>
<rect x="798.4" y="621.4" width="2" height="2" fill="#111"/>
<rect x="861.5" y="616.4" width="9" height="9" fill="#858585" stroke="#2a2a2a" stroke-width="1.2"/>
<rect x="863.5" y="618.4" width="2" height="2" fill="#111"/>
<rect x="866.5" y="621.4" width="2" height="2" fill="#111"/>
<rect x="928.7" y="616.4" width="9" height="9" fill="#858585" stroke="#2a2a2a" stroke-width="1.2"/>
<rect x="930.7" y="618.4" width="2" height="2" fill="#111"/>
<rect x="933.7" y="621.4" width="2" height="2" fill="#111"/>
<rect x="861.5" y="750.7" width="9" height="9" fill="#858585" stroke="#2a2a2a" stroke-width="1.2"/>
<rect x="863.5" y="752.7" width="2" height="2" fill="#111"/>
<rect x="866.5" y="755.7" width="2" height="2" fill="#111"/>
<rect x="928.7" y="750.7" width="9" height="9" fill="#858585" stroke="#2a2a2a" stroke-width="1.2"/>
<rect x="930.7" y="752.7" width="2" height="2" fill="#111"/>
<rect x="933.7" y="755.7" width="2" height="2" fill="#111"/>
<rect x="1093.9" y="750.7" width="9" height="9" fill="#858585" stroke="#2a2a2a" stroke-width="1.2"/>
<rect x="1095.9" y="752.7" width="2" height="2" fill="#111"/>
<rect x="1098.9" y="755.7" width="2" height="2" fill="#111"/>
<rect x="1161.5" y="750.7" width="9" height="9" fill="#858585" stroke="#2a2a2a" stroke-width="1.2"/>
<rect x="1163.5" y="752.7" width="2" height="2" fill="#111"/>
<rect x="1166.5" y="755.7" width="2" height="2" fill="#111"/>
<rect x="1228.5" y="750.7" width="9" height="9" fill="#858585" stroke="#2a2a2a" stroke-width="1.2"/>
<rect x="1230.5" y="752.7" width="2" height="2" fill="#111"/>
<rect x="1233.5" y="755.7" width="2" height="2" fill="#111"/>
<rect x="861.5" y="818.5" width="9" height="9" fill="#858585" stroke="#2a2a2a" stroke-width="1.2"/>
<rect x="863.5" y="820.5" width="2" height="2" fill="#111"/>
<rect x="866.5" y="823.5" width="2" height="2" fill="#111"/>
<rect x="928.7" y="818.5" width="9" height="9" fill="#858585" stroke="#2a2a2a" stroke-width="1.2"/>
<rect x="930.7" y="820.5" width="2" height="2" fill="#111"/>
<rect x="933.7" y="823.5" width="2" height="2" fill="#111"/>
<rect x="1093.9" y="818.5" width="9" height="9" fill="#858585" stroke="#2a2a2a" stroke-width="1.2"/>
<rect x="1095.9" y="820.5" width="2" height="2" fill="#111"/>
<rect x="1098.9" y="823.5" width="2" height="2" fill="#111"/>
<rect x="1161.5" y="818.5" width="9" height="9" fill="#858585" stroke="#2a2a2a" stroke-width="1.2"/>
<rect x="1163.5" y="820.5" width="2" height="2" fill="#111"/>
<rect x="1166.5" y="823.5" width="2" height="2" fill="#111"/>
<rect x="1228.5" y="818.5" width="9" height="9" fill="#858585" stroke="#2a2a2a" stroke-width="1.2"/>
<rect x="1230.5" y="820.5" width="2" height="2" fill="#111"/>
<rect x="1233.5" y="823.5" width="2" height="2" fill="#111"/>
<rect x="1093" y="316" width="9" height="9" fill="#858585" stroke="#2a2a2a" stroke-width="1.2"/>
<rect x="1095" y="318" width="2" height="2" fill="#111"/>
<rect x="1098" y="321" width="2" height="2" fill="#111"/>
<rect x="1162" y="316" width="9" height="9" fill="#858585" stroke="#2a2a2a" stroke-width="1.2"/>
<rect x="1164" y="318" width="2" height="2" fill="#111"/>
<rect x="1167" y="321" width="2" height="2" fill="#111"/>
<rect x="1093" y="359.5" width="9" height="9" fill="#858585" stroke="#2a2a2a" stroke-width="1.2"/>
<rect x="1095" y="361.5" width="2" height="2" fill="#111"/>
<rect x="1098" y="364.5" width="2" height="2" fill="#111"/>
<rect x="1162" y="359.5" width="9" height="9" fill="#858585" stroke="#2a2a2a" stroke-width="1.2"/>
<rect x="1164" y="361.5" width="2" height="2" fill="#111"/>
<rect x="1167" y="364.5" width="2" height="2" fill="#111"/>
</g>
<g shape-rendering="crispEdges"><rect x="686" y="769.5" width="192.5" height="38" fill="#fff"/><rect x="686" y="769.5" width="9" height="38" fill="url(#gcap)"/><rect x="703.5" y="769.5" width="49" height="38" fill="url(#gslide)"/><rect x="752.5" y="769.5" width="106" height="38" fill="#cfcfcf"/></g>
<g stroke="#000" stroke-width="0.99" fill="none" shape-rendering="crispEdges" clip-path="url(#cSlide)">
<path clip-path="url(#cA3T)" d="M558.4,565 L938.4,185 M576.2,565 L956.2,185 M594,565 L974,185 M611.8,565 L991.8,185 M629.6,565 L1009.6,185 M647.4,565 L1027.4,185 M665.2,565 L1045.2,185 M683,565 L1063,185 M700.8,565 L1080.8,185 M718.6,565 L1098.6,185 M736.4,565 L1116.4,185 M754.2,565 L1134.2,185 M772,565 L1152,185 M789.8,565 L1169.8,185 M807.6,565 L1187.6,185 M825.4,565 L1205.4,185 M843.2,565 L1223.2,185 M861,565 L1241,185 M878.8,565 L1258.8,185 M896.6,565 L1276.6,185 M914.4,565 L1294.4,185 M932.2,565 L1312.2,185 M950,565 L1330,185 M967.8,565 L1347.8,185 M985.6,565 L1365.6,185 M1003.4,565 L1383.4,185 M1021.2,565 L1401.2,185 M1039,565 L1419,185 M1056.8,565 L1436.8,185 M1074.6,565 L1454.6,185 M1092.4,565 L1472.4,185 M1110.2,565 L1490.2,185 M1128,565 L1508,185 M1145.8,565 L1525.8,185 M1163.6,565 L1543.6,185 M1181.4,565 L1561.4,185 M1199.2,565 L1579.2,185 M1217,565 L1597,185 M1234.8,565 L1614.8,185 M1252.6,565 L1632.6,185 M1270.4,565 L1650.4,185 M1288.2,565 L1668.2,185 M1306,565 L1686,185 M1323.8,565 L1703.8,185 M1341.6,565 L1721.6,185"/>
<g clip-path="url(#cA3T)"><path clip-path="url(#cA5)" d="M542.9,185 L922.9,565 M560.7,185 L940.7,565 M578.5,185 L958.5,565 M596.3,185 L976.3,565 M614.1,185 L994.1,565 M631.9,185 L1011.9,565 M649.7,185 L1029.7,565 M667.5,185 L1047.5,565 M685.3,185 L1065.3,565 M703.1,185 L1083.1,565 M720.9,185 L1100.9,565 M738.7,185 L1118.7,565 M756.5,185 L1136.5,565 M774.3,185 L1154.3,565 M792.1,185 L1172.1,565 M809.9,185 L1189.9,565 M827.7,185 L1207.7,565 M845.5,185 L1225.5,565 M863.3,185 L1243.3,565 M881.1,185 L1261.1,565 M898.9,185 L1278.9,565 M916.7,185 L1296.7,565 M934.5,185 L1314.5,565 M952.3,185 L1332.3,565 M970.1,185 L1350.1,565 M987.9,185 L1367.9,565 M1005.7,185 L1385.7,565 M1023.5,185 L1403.5,565 M1041.3,185 L1421.3,565 M1059.1,185 L1439.1,565 M1076.9,185 L1456.9,565 M1094.7,185 L1474.7,565 M1112.5,185 L1492.5,565 M1130.3,185 L1510.3,565 M1148.1,185 L1528.1,565 M1165.9,185 L1545.9,565 M1183.7,185 L1563.7,565 M1201.5,185 L1581.5,565 M1219.3,185 L1599.3,565 M1237.1,185 L1617.1,565 M1254.9,185 L1634.9,565 M1272.7,185 L1652.7,565 M1290.5,185 L1670.5,565 M1308.3,185 L1688.3,565 M1326.1,185 L1706.1,565"/></g>
<path clip-path="url(#cA3B)" d="M347,990 L722,615 M364.8,990 L739.8,615 M382.6,990 L757.6,615 M400.4,990 L775.4,615 M418.2,990 L793.2,615 M436,990 L811,615 M453.8,990 L828.8,615 M471.6,990 L846.6,615 M489.4,990 L864.4,615 M507.2,990 L882.2,615 M525,990 L900,615 M542.8,990 L917.8,615 M560.6,990 L935.6,615 M578.4,990 L953.4,615 M596.2,990 L971.2,615 M614,990 L989,615 M631.8,990 L1006.8,615 M649.6,990 L1024.6,615 M667.4,990 L1042.4,615 M685.2,990 L1060.2,615 M703,990 L1078,615 M720.8,990 L1095.8,615 M738.6,990 L1113.6,615 M756.4,990 L1131.4,615 M774.2,990 L1149.2,615 M792,990 L1167,615 M809.8,990 L1184.8,615 M827.6,990 L1202.6,615 M845.4,990 L1220.4,615 M863.2,990 L1238.2,615 M881,990 L1256,615 M898.8,990 L1273.8,615 M916.6,990 L1291.6,615 M934.4,990 L1309.4,615 M952.2,990 L1327.2,615 M970,990 L1345,615 M987.8,990 L1362.8,615 M1005.6,990 L1380.6,615 M1023.4,990 L1398.4,615 M1041.2,990 L1416.2,615 M1059,990 L1434,615 M1076.8,990 L1451.8,615 M1094.6,990 L1469.6,615 M1112.4,990 L1487.4,615 M1130.2,990 L1505.2,615 M1148,990 L1523,615 M1165.8,990 L1540.8,615 M1183.6,990 L1558.6,615 M1201.4,990 L1576.4,615 M1219.2,990 L1594.2,615 M1237,990 L1612,615 M1254.8,990 L1629.8,615 M1272.6,990 L1647.6,615 M1290.4,990 L1665.4,615 M1308.2,990 L1683.2,615 M1326,990 L1701,615 M1343.8,990 L1718.8,615 M1361.6,990 L1736.6,615"/>
<path clip-path="url(#cA1)" d="M510.9,629.4 l8.8,8.8 M511.6,655.4 l8.8,8.8 M524.3,642.7 l8.8,8.8 M537,630 l8.8,8.8 M512.4,681.4 l8.8,8.8 M525,668.7 l8.8,8.8 M537.6,656.1 l8.8,8.8 M550.3,643.4 l8.8,8.8 M563,630.8 l8.8,8.8 M513,707.3 l8.8,8.8 M525.7,694.7 l8.8,8.8 M538.3,682 l8.8,8.8 M551,669.4 l8.8,8.8 M563.6,656.7 l8.8,8.8 M576.3,644.1 l8.8,8.8 M588.9,631.4 l8.8,8.8 M513.8,733.3 l8.8,8.8 M526.4,720.7 l8.8,8.8 M539,708 l8.8,8.8 M551.7,695.4 l8.8,8.8 M564.3,682.8 l8.8,8.8 M577,670.1 l8.8,8.8 M589.6,657.4 l8.8,8.8 M602.3,644.8 l8.8,8.8 M614.9,632.1 l8.8,8.8 M514.4,759.4 l8.8,8.8 M527.1,746.7 l8.8,8.8 M539.8,734 l8.8,8.8 M552.4,721.4 l8.8,8.8 M565,708.8 l8.8,8.8 M577.7,696.1 l8.8,8.8 M590.4,683.4 l8.8,8.8 M603,670.8 l8.8,8.8 M615.6,658.1 l8.8,8.8 M628.3,645.5 l8.8,8.8 M640.9,632.9 l8.8,8.8 M515.1,785.4 l8.8,8.8 M527.8,772.7 l8.8,8.8 M540.5,760 l8.8,8.8 M553.1,747.4 l8.8,8.8 M565.8,734.8 l8.8,8.8 M578.4,722.1 l8.8,8.8 M591,709.5 l8.8,8.8 M603.7,696.8 l8.8,8.8 M616.4,684.1 l8.8,8.8 M629,671.5 l8.8,8.8 M641.6,658.9 l8.8,8.8 M654.3,646.2 l8.8,8.8 M667,633.5 l8.8,8.8 M515.9,811.4 l8.8,8.8 M528.5,798.7 l8.8,8.8 M541.1,786.1 l8.8,8.8 M553.8,773.4 l8.8,8.8 M566.5,760.8 l8.8,8.8 M579.1,748.1 l8.8,8.8 M591.8,735.5 l8.8,8.8 M604.4,722.8 l8.8,8.8 M617.1,710.1 l8.8,8.8 M629.7,697.5 l8.8,8.8 M642.4,684.9 l8.8,8.8 M655,672.2 l8.8,8.8 M667.6,659.6 l8.8,8.8 M680.3,646.9 l8.8,8.8 M693,634.2 l8.8,8.8 M516.5,837.3 l8.8,8.8 M529.2,824.7 l8.8,8.8 M541.8,812 l8.8,8.8 M554.5,799.4 l8.8,8.8 M567.1,786.7 l8.8,8.8 M579.8,774.1 l8.8,8.8 M592.4,761.4 l8.8,8.8 M605.1,748.8 l8.8,8.8 M617.7,736.1 l8.8,8.8 M630.4,723.5 l8.8,8.8 M643,710.8 l8.8,8.8 M655.7,698.2 l8.8,8.8 M668.3,685.5 l8.8,8.8 M681,672.9 l8.8,8.8 M693.6,660.2 l8.8,8.8 M706.3,647.6 l8.8,8.8 M718.9,634.9 l8.8,8.8 M517.2,863.4 l8.8,8.8 M529.9,850.7 l8.8,8.8 M542.5,838 l8.8,8.8 M555.2,825.4 l8.8,8.8 M567.9,812.7 l8.8,8.8 M580.5,800.1 l8.8,8.8 M593.1,787.4 l8.8,8.8 M605.8,774.8 l8.8,8.8 M618.4,762.1 l8.8,8.8 M631.1,749.5 l8.8,8.8 M643.8,736.8 l8.8,8.8 M656.4,724.2 l8.8,8.8 M669,711.5 l8.8,8.8 M681.7,698.9 l8.8,8.8 M694.4,686.2 l8.8,8.8 M707,673.6 l8.8,8.8 M719.6,660.9 l8.8,8.8 M732.3,648.3 l8.8,8.8 M744.9,635.6 l8.8,8.8 M517.9,889.4 l8.8,8.8 M530.6,876.7 l8.8,8.8 M543.2,864 l8.8,8.8 M555.9,851.4 l8.8,8.8 M568.5,838.8 l8.8,8.8 M581.2,826.1 l8.8,8.8 M593.9,813.4 l8.8,8.8 M606.5,800.8 l8.8,8.8 M619.1,788.1 l8.8,8.8 M631.8,775.5 l8.8,8.8 M644.4,762.9 l8.8,8.8 M657.1,750.2 l8.8,8.8 M669.8,737.5 l8.8,8.8 M682.4,724.9 l8.8,8.8 M695,712.2 l8.8,8.8 M707.7,699.6 l8.8,8.8 M720.4,686.9 l8.8,8.8 M733,674.3 l8.8,8.8 M745.6,661.6 l8.8,8.8 M758.3,649 l8.8,8.8 M770.9,636.4 l8.8,8.8 M506,928 l8.8,8.8 M518.6,915.4 l8.8,8.8 M531.3,902.7 l8.8,8.8 M543.9,890.1 l8.8,8.8 M556.6,877.4 l8.8,8.8 M569.2,864.8 l8.8,8.8 M581.9,852.1 l8.8,8.8 M594.6,839.4 l8.8,8.8 M607.2,826.8 l8.8,8.8 M619.9,814.1 l8.8,8.8 M632.5,801.5 l8.8,8.8 M645.1,788.9 l8.8,8.8 M657.8,776.2 l8.8,8.8 M670.5,763.5 l8.8,8.8 M683.1,750.9 l8.8,8.8 M695.8,738.2 l8.8,8.8 M708.4,725.6 l8.8,8.8 M721.1,712.9 l8.8,8.8 M733.7,700.3 l8.8,8.8 M746.4,687.6 l8.8,8.8 M759,675 l8.8,8.8 M771.6,662.4 l8.8,8.8 M784.3,649.7 l8.8,8.8 M797,637 l8.8,8.8 M532,928.7 l8.8,8.8 M544.6,916.1 l8.8,8.8 M557.3,903.4 l8.8,8.8 M570,890.8 l8.8,8.8 M582.6,878.1 l8.8,8.8 M595.2,865.5 l8.8,8.8 M607.9,852.8 l8.8,8.8 M620.6,840.1 l8.8,8.8 M633.2,827.5 l8.8,8.8 M645.9,814.9 l8.8,8.8 M658.5,802.2 l8.8,8.8 M671.1,789.6 l8.8,8.8 M683.8,776.9 l8.8,8.8 M696.5,764.2 l8.8,8.8 M709.1,751.6 l8.8,8.8 M721.8,739 l8.8,8.8 M734.4,726.3 l8.8,8.8 M747.1,713.6 l8.8,8.8 M759.7,701 l8.8,8.8 M772.4,688.4 l8.8,8.8 M785,675.7 l8.8,8.8 M797.6,663.1 l8.8,8.8 M558,929.4 l8.8,8.8 M570.6,916.7 l8.8,8.8 M583.3,904.1 l8.8,8.8 M595.9,891.4 l8.8,8.8 M608.6,878.8 l8.8,8.8 M621.2,866.1 l8.8,8.8 M633.9,853.5 l8.8,8.8 M646.5,840.8 l8.8,8.8 M659.2,828.2 l8.8,8.8 M671.8,815.5 l8.8,8.8 M684.5,802.9 l8.8,8.8 M697.1,790.2 l8.8,8.8 M709.8,777.6 l8.8,8.8 M722.4,764.9 l8.8,8.8 M735.1,752.3 l8.8,8.8 M747.7,739.6 l8.8,8.8 M760.4,727 l8.8,8.8 M773,714.3 l8.8,8.8 M785.7,701.7 l8.8,8.8 M798.3,689 l8.8,8.8 M584,930.1 l8.8,8.8 M596.6,917.4 l8.8,8.8 M609.3,904.8 l8.8,8.8 M621.9,892.1 l8.8,8.8 M634.6,879.5 l8.8,8.8 M647.2,866.8 l8.8,8.8 M659.9,854.2 l8.8,8.8 M672.5,841.5 l8.8,8.8 M685.2,828.9 l8.8,8.8 M697.8,816.2 l8.8,8.8 M710.5,803.6 l8.8,8.8 M723.1,790.9 l8.8,8.8 M735.8,778.3 l8.8,8.8 M748.4,765.6 l8.8,8.8 M761.1,753 l8.8,8.8 M773.8,740.3 l8.8,8.8 M786.4,727.7 l8.8,8.8 M799,715 l8.8,8.8 M610,930.8 l8.8,8.8 M622.6,918.1 l8.8,8.8 M635.3,905.5 l8.8,8.8 M647.9,892.9 l8.8,8.8 M660.6,880.2 l8.8,8.8 M673.2,867.5 l8.8,8.8 M685.9,854.9 l8.8,8.8 M698.5,842.2 l8.8,8.8 M711.2,829.6 l8.8,8.8 M723.9,816.9 l8.8,8.8 M736.5,804.3 l8.8,8.8 M749.1,791.6 l8.8,8.8 M761.8,779 l8.8,8.8 M774.4,766.4 l8.8,8.8 M787.1,753.7 l8.8,8.8 M799.8,741 l8.8,8.8 M636,931.5 l8.8,8.8 M648.6,918.9 l8.8,8.8 M661.3,906.2 l8.8,8.8 M674,893.5 l8.8,8.8 M686.6,880.9 l8.8,8.8 M699.2,868.2 l8.8,8.8 M711.9,855.6 l8.8,8.8 M724.5,843 l8.8,8.8 M737.2,830.3 l8.8,8.8 M749.9,817.6 l8.8,8.8 M762.5,805 l8.8,8.8 M775.1,792.4 l8.8,8.8 M787.8,779.7 l8.8,8.8 M800.5,767 l8.8,8.8 M662,932.2 l8.8,8.8 M674.6,919.6 l8.8,8.8 M687.3,906.9 l8.8,8.8 M700,894.2 l8.8,8.8 M712.6,881.6 l8.8,8.8 M725.2,869 l8.8,8.8 M737.9,856.3 l8.8,8.8 M750.6,843.6 l8.8,8.8 M763.2,831 l8.8,8.8 M775.9,818.4 l8.8,8.8 M788.5,805.7 l8.8,8.8 M801.1,793.1 l8.8,8.8 M688,932.9 l8.8,8.8 M700.6,920.2 l8.8,8.8 M713.3,907.6 l8.8,8.8 M725.9,894.9 l8.8,8.8 M738.6,882.3 l8.8,8.8 M751.2,869.6 l8.8,8.8 M763.9,857 l8.8,8.8 M776.5,844.3 l8.8,8.8 M789.2,831.7 l8.8,8.8 M801.8,819 l8.8,8.8 M714,933.6 l8.8,8.8 M726.6,920.9 l8.8,8.8 M739.3,908.3 l8.8,8.8 M751.9,895.6 l8.8,8.8 M764.6,883 l8.8,8.8 M777.2,870.3 l8.8,8.8 M789.9,857.7 l8.8,8.8 M802.5,845 l8.8,8.8 M740,934.3 l8.8,8.8 M752.6,921.6 l8.8,8.8 M765.3,909 l8.8,8.8 M777.9,896.4 l8.8,8.8 M790.6,883.7 l8.8,8.8 M803.2,871 l8.8,8.8 M766,935 l8.8,8.8 M778.6,922.4 l8.8,8.8 M791.3,909.7 l8.8,8.8 M804,897 l8.8,8.8 M792,935.7 l8.8,8.8 M804.6,923.1 l8.8,8.8"/>
<path clip-path="url(#cA2L)" d="M646.7,361.2 h11.8 M671.8,361.2 h11.8 M697,361.2 h11.8 M722.2,361.2 h11.8 M747.3,361.2 h11.8 M772.5,361.2 h11.8 M797.6,361.2 h11.8 M822.8,361.2 h11.8 M848,361.2 h11.8 M873.1,361.2 h11.8 M898.3,361.2 h11.8 M923.4,361.2 h11.8 M948.6,361.2 h11.8 M973.8,361.2 h11.8 M658.7,373.8 h12.6 M683.8,373.8 h12.6 M709,373.8 h12.6 M734.2,373.8 h12.6 M759.3,373.8 h12.6 M784.5,373.8 h12.6 M809.6,373.8 h12.6 M834.8,373.8 h12.6 M860,373.8 h12.6 M885.1,373.8 h12.6 M910.3,373.8 h12.6 M935.4,373.8 h12.6 M960.6,373.8 h12.6 M985.8,373.8 h12.6 M646.7,386.4 h11.8 M671.8,386.4 h11.8 M697,386.4 h11.8 M722.2,386.4 h11.8 M747.3,386.4 h11.8 M772.5,386.4 h11.8 M797.6,386.4 h11.8 M822.8,386.4 h11.8 M848,386.4 h11.8 M873.1,386.4 h11.8 M898.3,386.4 h11.8 M923.4,386.4 h11.8 M948.6,386.4 h11.8 M973.8,386.4 h11.8 M658.7,399 h12.6 M683.8,399 h12.6 M709,399 h12.6 M734.2,399 h12.6 M759.3,399 h12.6 M784.5,399 h12.6 M809.6,399 h12.6 M834.8,399 h12.6 M860,399 h12.6 M885.1,399 h12.6 M910.3,399 h12.6 M935.4,399 h12.6 M960.6,399 h12.6 M985.8,399 h12.6 M646.7,411.6 h11.8 M671.8,411.6 h11.8 M697,411.6 h11.8 M722.2,411.6 h11.8 M747.3,411.6 h11.8 M772.5,411.6 h11.8 M797.6,411.6 h11.8 M822.8,411.6 h11.8 M848,411.6 h11.8 M873.1,411.6 h11.8 M898.3,411.6 h11.8 M923.4,411.6 h11.8 M948.6,411.6 h11.8 M973.8,411.6 h11.8 M658.7,424.2 h12.6 M683.8,424.2 h12.6 M709,424.2 h12.6 M734.2,424.2 h12.6 M759.3,424.2 h12.6 M784.5,424.2 h12.6 M809.6,424.2 h12.6 M834.8,424.2 h12.6 M860,424.2 h12.6 M885.1,424.2 h12.6 M910.3,424.2 h12.6 M935.4,424.2 h12.6 M960.6,424.2 h12.6 M985.8,424.2 h12.6 M646.7,436.8 h11.8 M671.8,436.8 h11.8 M697,436.8 h11.8 M722.2,436.8 h11.8 M747.3,436.8 h11.8 M772.5,436.8 h11.8 M797.6,436.8 h11.8 M822.8,436.8 h11.8 M848,436.8 h11.8 M873.1,436.8 h11.8 M898.3,436.8 h11.8 M923.4,436.8 h11.8 M948.6,436.8 h11.8 M973.8,436.8 h11.8 M658.7,449.4 h12.6 M683.8,449.4 h12.6 M709,449.4 h12.6 M734.2,449.4 h12.6 M759.3,449.4 h12.6 M784.5,449.4 h12.6 M809.6,449.4 h12.6 M834.8,449.4 h12.6 M860,449.4 h12.6 M885.1,449.4 h12.6 M910.3,449.4 h12.6 M935.4,449.4 h12.6 M960.6,449.4 h12.6 M985.8,449.4 h12.6 M646.7,462 h11.8 M671.8,462 h11.8 M697,462 h11.8 M722.2,462 h11.8 M747.3,462 h11.8 M772.5,462 h11.8 M797.6,462 h11.8 M822.8,462 h11.8 M848,462 h11.8 M873.1,462 h11.8 M898.3,462 h11.8 M923.4,462 h11.8 M948.6,462 h11.8 M973.8,462 h11.8 M658.7,474.6 h12.6 M683.8,474.6 h12.6 M709,474.6 h12.6 M734.2,474.6 h12.6 M759.3,474.6 h12.6 M784.5,474.6 h12.6 M809.6,474.6 h12.6 M834.8,474.6 h12.6 M860,474.6 h12.6 M885.1,474.6 h12.6 M910.3,474.6 h12.6 M935.4,474.6 h12.6 M960.6,474.6 h12.6 M985.8,474.6 h12.6 M646.7,487.2 h11.8 M671.8,487.2 h11.8 M697,487.2 h11.8 M722.2,487.2 h11.8 M747.3,487.2 h11.8 M772.5,487.2 h11.8 M797.6,487.2 h11.8 M822.8,487.2 h11.8 M848,487.2 h11.8 M873.1,487.2 h11.8 M898.3,487.2 h11.8 M923.4,487.2 h11.8 M948.6,487.2 h11.8 M973.8,487.2 h11.8 M658.7,499.8 h12.6 M683.8,499.8 h12.6 M709,499.8 h12.6 M734.2,499.8 h12.6 M759.3,499.8 h12.6 M784.5,499.8 h12.6 M809.6,499.8 h12.6 M834.8,499.8 h12.6 M860,499.8 h12.6 M885.1,499.8 h12.6 M910.3,499.8 h12.6 M935.4,499.8 h12.6 M960.6,499.8 h12.6 M985.8,499.8 h12.6 M646.7,512.4 h11.8 M671.8,512.4 h11.8 M697,512.4 h11.8 M722.2,512.4 h11.8 M747.3,512.4 h11.8 M772.5,512.4 h11.8 M797.6,512.4 h11.8 M822.8,512.4 h11.8 M848,512.4 h11.8 M873.1,512.4 h11.8 M898.3,512.4 h11.8 M923.4,512.4 h11.8 M948.6,512.4 h11.8 M973.8,512.4 h11.8 M658.7,525 h12.6 M683.8,525 h12.6 M709,525 h12.6 M734.2,525 h12.6 M759.3,525 h12.6 M784.5,525 h12.6 M809.6,525 h12.6 M834.8,525 h12.6 M860,525 h12.6 M885.1,525 h12.6 M910.3,525 h12.6 M935.4,525 h12.6 M960.6,525 h12.6 M985.8,525 h12.6 M646.7,537.6 h11.8 M671.8,537.6 h11.8 M697,537.6 h11.8 M722.2,537.6 h11.8 M747.3,537.6 h11.8 M772.5,537.6 h11.8 M797.6,537.6 h11.8 M822.8,537.6 h11.8 M848,537.6 h11.8 M873.1,537.6 h11.8 M898.3,537.6 h11.8 M923.4,537.6 h11.8 M948.6,537.6 h11.8 M973.8,537.6 h11.8 M658.7,550.2 h12.6 M683.8,550.2 h12.6 M709,550.2 h12.6 M734.2,550.2 h12.6 M759.3,550.2 h12.6 M784.5,550.2 h12.6 M809.6,550.2 h12.6 M834.8,550.2 h12.6 M860,550.2 h12.6 M885.1,550.2 h12.6 M910.3,550.2 h12.6 M935.4,550.2 h12.6 M960.6,550.2 h12.6 M985.8,550.2 h12.6 M646.7,562.8 h11.8 M671.8,562.8 h11.8 M697,562.8 h11.8 M722.2,562.8 h11.8 M747.3,562.8 h11.8 M772.5,562.8 h11.8 M797.6,562.8 h11.8 M822.8,562.8 h11.8 M848,562.8 h11.8 M873.1,562.8 h11.8 M898.3,562.8 h11.8 M923.4,562.8 h11.8 M948.6,562.8 h11.8 M973.8,562.8 h11.8 M658.7,575.4 h12.6 M683.8,575.4 h12.6 M709,575.4 h12.6 M734.2,575.4 h12.6 M759.3,575.4 h12.6 M784.5,575.4 h12.6 M809.6,575.4 h12.6 M834.8,575.4 h12.6 M860,575.4 h12.6 M885.1,575.4 h12.6 M910.3,575.4 h12.6 M935.4,575.4 h12.6 M960.6,575.4 h12.6 M985.8,575.4 h12.6 M646.7,588 h11.8 M671.8,588 h11.8 M697,588 h11.8 M722.2,588 h11.8 M747.3,588 h11.8 M772.5,588 h11.8 M797.6,588 h11.8 M822.8,588 h11.8 M848,588 h11.8 M873.1,588 h11.8 M898.3,588 h11.8 M923.4,588 h11.8 M948.6,588 h11.8 M973.8,588 h11.8 M658.7,600.6 h12.6 M683.8,600.6 h12.6 M709,600.6 h12.6 M734.2,600.6 h12.6 M759.3,600.6 h12.6 M784.5,600.6 h12.6 M809.6,600.6 h12.6 M834.8,600.6 h12.6 M860,600.6 h12.6 M885.1,600.6 h12.6 M910.3,600.6 h12.6 M935.4,600.6 h12.6 M960.6,600.6 h12.6 M985.8,600.6 h12.6 M646.7,613.2 h11.8 M671.8,613.2 h11.8 M697,613.2 h11.8 M722.2,613.2 h11.8 M747.3,613.2 h11.8 M772.5,613.2 h11.8 M797.6,613.2 h11.8 M822.8,613.2 h11.8 M848,613.2 h11.8 M873.1,613.2 h11.8 M898.3,613.2 h11.8 M923.4,613.2 h11.8 M948.6,613.2 h11.8 M973.8,613.2 h11.8 M658.7,625.8 h12.6 M683.8,625.8 h12.6 M709,625.8 h12.6 M734.2,625.8 h12.6 M759.3,625.8 h12.6 M784.5,625.8 h12.6 M809.6,625.8 h12.6 M834.8,625.8 h12.6 M860,625.8 h12.6 M885.1,625.8 h12.6 M910.3,625.8 h12.6 M935.4,625.8 h12.6 M960.6,625.8 h12.6 M985.8,625.8 h12.6 M646.7,638.4 h11.8 M671.8,638.4 h11.8 M697,638.4 h11.8 M722.2,638.4 h11.8 M747.3,638.4 h11.8 M772.5,638.4 h11.8 M797.6,638.4 h11.8 M822.8,638.4 h11.8 M848,638.4 h11.8 M873.1,638.4 h11.8 M898.3,638.4 h11.8 M923.4,638.4 h11.8 M948.6,638.4 h11.8 M973.8,638.4 h11.8 M658.7,651 h12.6 M683.8,651 h12.6 M709,651 h12.6 M734.2,651 h12.6 M759.3,651 h12.6 M784.5,651 h12.6 M809.6,651 h12.6 M834.8,651 h12.6 M860,651 h12.6 M885.1,651 h12.6 M910.3,651 h12.6 M935.4,651 h12.6 M960.6,651 h12.6 M985.8,651 h12.6 M646.7,663.6 h11.8 M671.8,663.6 h11.8 M697,663.6 h11.8 M722.2,663.6 h11.8 M747.3,663.6 h11.8 M772.5,663.6 h11.8 M797.6,663.6 h11.8 M822.8,663.6 h11.8 M848,663.6 h11.8 M873.1,663.6 h11.8 M898.3,663.6 h11.8 M923.4,663.6 h11.8 M948.6,663.6 h11.8 M973.8,663.6 h11.8 M658.7,676.2 h12.6 M683.8,676.2 h12.6 M709,676.2 h12.6 M734.2,676.2 h12.6 M759.3,676.2 h12.6 M784.5,676.2 h12.6 M809.6,676.2 h12.6 M834.8,676.2 h12.6 M860,676.2 h12.6 M885.1,676.2 h12.6 M910.3,676.2 h12.6 M935.4,676.2 h12.6 M960.6,676.2 h12.6 M985.8,676.2 h12.6"/>
<path clip-path="url(#cA2R)" d="M1061.2,525 h12.6 M1086.4,525 h12.6 M1111.6,525 h12.6 M1136.7,525 h12.6 M1161.9,525 h12.6 M1187,525 h12.6 M1212.2,525 h12.6 M1237.4,525 h12.6 M1262.5,525 h12.6 M1287.7,525 h12.6 M1312.8,525 h12.6 M1049.2,537.6 h11.8 M1074.4,537.6 h11.8 M1099.6,537.6 h11.8 M1124.7,537.6 h11.8 M1149.9,537.6 h11.8 M1175,537.6 h11.8 M1200.2,537.6 h11.8 M1225.4,537.6 h11.8 M1250.5,537.6 h11.8 M1275.7,537.6 h11.8 M1300.8,537.6 h11.8 M1326,537.6 h11.8 M1061.2,550.2 h12.6 M1086.4,550.2 h12.6 M1111.6,550.2 h12.6 M1136.7,550.2 h12.6 M1161.9,550.2 h12.6 M1187,550.2 h12.6 M1212.2,550.2 h12.6 M1237.4,550.2 h12.6 M1262.5,550.2 h12.6 M1287.7,550.2 h12.6 M1312.8,550.2 h12.6 M1049.2,562.8 h11.8 M1074.4,562.8 h11.8 M1099.6,562.8 h11.8 M1124.7,562.8 h11.8 M1149.9,562.8 h11.8 M1175,562.8 h11.8 M1200.2,562.8 h11.8 M1225.4,562.8 h11.8 M1250.5,562.8 h11.8 M1275.7,562.8 h11.8 M1300.8,562.8 h11.8 M1326,562.8 h11.8 M1061.2,575.4 h12.6 M1086.4,575.4 h12.6 M1111.6,575.4 h12.6 M1136.7,575.4 h12.6 M1161.9,575.4 h12.6 M1187,575.4 h12.6 M1212.2,575.4 h12.6 M1237.4,575.4 h12.6 M1262.5,575.4 h12.6 M1287.7,575.4 h12.6 M1312.8,575.4 h12.6 M1049.2,588 h11.8 M1074.4,588 h11.8 M1099.6,588 h11.8 M1124.7,588 h11.8 M1149.9,588 h11.8 M1175,588 h11.8 M1200.2,588 h11.8 M1225.4,588 h11.8 M1250.5,588 h11.8 M1275.7,588 h11.8 M1300.8,588 h11.8 M1326,588 h11.8 M1061.2,600.6 h12.6 M1086.4,600.6 h12.6 M1111.6,600.6 h12.6 M1136.7,600.6 h12.6 M1161.9,600.6 h12.6 M1187,600.6 h12.6 M1212.2,600.6 h12.6 M1237.4,600.6 h12.6 M1262.5,600.6 h12.6 M1287.7,600.6 h12.6 M1312.8,600.6 h12.6 M1049.2,613.2 h11.8 M1074.4,613.2 h11.8 M1099.6,613.2 h11.8 M1124.7,613.2 h11.8 M1149.9,613.2 h11.8 M1175,613.2 h11.8 M1200.2,613.2 h11.8 M1225.4,613.2 h11.8 M1250.5,613.2 h11.8 M1275.7,613.2 h11.8 M1300.8,613.2 h11.8 M1326,613.2 h11.8 M1061.2,625.8 h12.6 M1086.4,625.8 h12.6 M1111.6,625.8 h12.6 M1136.7,625.8 h12.6 M1161.9,625.8 h12.6 M1187,625.8 h12.6 M1212.2,625.8 h12.6 M1237.4,625.8 h12.6 M1262.5,625.8 h12.6 M1287.7,625.8 h12.6 M1312.8,625.8 h12.6 M1049.2,638.4 h11.8 M1074.4,638.4 h11.8 M1099.6,638.4 h11.8 M1124.7,638.4 h11.8 M1149.9,638.4 h11.8 M1175,638.4 h11.8 M1200.2,638.4 h11.8 M1225.4,638.4 h11.8 M1250.5,638.4 h11.8 M1275.7,638.4 h11.8 M1300.8,638.4 h11.8 M1326,638.4 h11.8 M1061.2,651 h12.6 M1086.4,651 h12.6 M1111.6,651 h12.6 M1136.7,651 h12.6 M1161.9,651 h12.6 M1187,651 h12.6 M1212.2,651 h12.6 M1237.4,651 h12.6 M1262.5,651 h12.6 M1287.7,651 h12.6 M1312.8,651 h12.6 M1049.2,663.6 h11.8 M1074.4,663.6 h11.8 M1099.6,663.6 h11.8 M1124.7,663.6 h11.8 M1149.9,663.6 h11.8 M1175,663.6 h11.8 M1200.2,663.6 h11.8 M1225.4,663.6 h11.8 M1250.5,663.6 h11.8 M1275.7,663.6 h11.8 M1300.8,663.6 h11.8 M1326,663.6 h11.8 M1061.2,676.2 h12.6 M1086.4,676.2 h12.6 M1111.6,676.2 h12.6 M1136.7,676.2 h12.6 M1161.9,676.2 h12.6 M1187,676.2 h12.6 M1212.2,676.2 h12.6 M1237.4,676.2 h12.6 M1262.5,676.2 h12.6 M1287.7,676.2 h12.6 M1312.8,676.2 h12.6"/>
<path clip-path="url(#cA4)" d="M771.3,310.9 h13 M777.8,304.9 v12 M821.6,310.9 h13 M828.1,304.9 v12 M871.9,310.9 h13 M878.4,304.9 v12 M922.2,310.9 h13 M928.7,304.9 v12 M972.5,310.9 h13 M979,304.9 v12 M1022.8,310.9 h13 M1029.3,304.9 v12 M1073.1,310.9 h13 M1079.6,304.9 v12 M1123.4,310.9 h13 M1129.9,304.9 v12 M1173.7,310.9 h13 M1180.2,304.9 v12 M1224,310.9 h13 M1230.5,304.9 v12 M796.5,336 h13 M803,330 v12 M846.8,336 h13 M853.2,330 v12 M897,336 h13 M903.5,330 v12 M947.4,336 h13 M953.9,330 v12 M997.6,336 h13 M1004.1,330 v12 M1048,336 h13 M1054.5,330 v12 M1098.2,336 h13 M1104.8,330 v12 M1148.5,336 h13 M1155,330 v12 M1198.8,336 h13 M1205.3,330 v12 M1249.2,336 h13 M1255.7,330 v12 M771.3,361.2 h13 M777.8,355.2 v12 M821.6,361.2 h13 M828.1,355.2 v12 M871.9,361.2 h13 M878.4,355.2 v12 M922.2,361.2 h13 M928.7,355.2 v12 M972.5,361.2 h13 M979,355.2 v12 M1022.8,361.2 h13 M1029.3,355.2 v12 M1073.1,361.2 h13 M1079.6,355.2 v12 M1123.4,361.2 h13 M1129.9,355.2 v12 M1173.7,361.2 h13 M1180.2,355.2 v12 M1224,361.2 h13 M1230.5,355.2 v12 M796.5,386.4 h13 M803,380.4 v12 M846.8,386.4 h13 M853.2,380.4 v12 M897,386.4 h13 M903.5,380.4 v12 M947.4,386.4 h13 M953.9,380.4 v12 M997.6,386.4 h13 M1004.1,380.4 v12 M1048,386.4 h13 M1054.5,380.4 v12 M1098.2,386.4 h13 M1104.8,380.4 v12 M1148.5,386.4 h13 M1155,380.4 v12 M1198.8,386.4 h13 M1205.3,380.4 v12 M1249.2,386.4 h13 M1255.7,380.4 v12 M771.3,411.5 h13 M777.8,405.5 v12 M821.6,411.5 h13 M828.1,405.5 v12 M871.9,411.5 h13 M878.4,405.5 v12 M922.2,411.5 h13 M928.7,405.5 v12 M972.5,411.5 h13 M979,405.5 v12 M1022.8,411.5 h13 M1029.3,405.5 v12 M1073.1,411.5 h13 M1079.6,405.5 v12 M1123.4,411.5 h13 M1129.9,405.5 v12 M1173.7,411.5 h13 M1180.2,405.5 v12 M1224,411.5 h13 M1230.5,405.5 v12 M796.5,436.6 h13 M803,430.6 v12 M846.8,436.6 h13 M853.2,430.6 v12 M897,436.6 h13 M903.5,430.6 v12 M947.4,436.6 h13 M953.9,430.6 v12 M997.6,436.6 h13 M1004.1,430.6 v12 M1048,436.6 h13 M1054.5,430.6 v12 M1098.2,436.6 h13 M1104.8,430.6 v12 M1148.5,436.6 h13 M1155,430.6 v12 M1198.8,436.6 h13 M1205.3,430.6 v12 M1249.2,436.6 h13 M1255.7,430.6 v12 M771.3,461.8 h13 M777.8,455.8 v12 M821.6,461.8 h13 M828.1,455.8 v12 M871.9,461.8 h13 M878.4,455.8 v12 M922.2,461.8 h13 M928.7,455.8 v12 M972.5,461.8 h13 M979,455.8 v12 M1022.8,461.8 h13 M1029.3,455.8 v12 M1073.1,461.8 h13 M1079.6,455.8 v12 M1123.4,461.8 h13 M1129.9,455.8 v12 M1173.7,461.8 h13 M1180.2,455.8 v12 M1224,461.8 h13 M1230.5,455.8 v12 M796.5,486.9 h13 M803,480.9 v12 M846.8,486.9 h13 M853.2,480.9 v12 M897,486.9 h13 M903.5,480.9 v12 M947.4,486.9 h13 M953.9,480.9 v12 M997.6,486.9 h13 M1004.1,480.9 v12 M1048,486.9 h13 M1054.5,480.9 v12 M1098.2,486.9 h13 M1104.8,480.9 v12 M1148.5,486.9 h13 M1155,480.9 v12 M1198.8,486.9 h13 M1205.3,480.9 v12 M1249.2,486.9 h13 M1255.7,480.9 v12 M771.3,512.1 h13 M777.8,506.1 v12 M821.6,512.1 h13 M828.1,506.1 v12 M871.9,512.1 h13 M878.4,506.1 v12 M922.2,512.1 h13 M928.7,506.1 v12 M972.5,512.1 h13 M979,506.1 v12 M1022.8,512.1 h13 M1029.3,506.1 v12 M1073.1,512.1 h13 M1079.6,506.1 v12 M1123.4,512.1 h13 M1129.9,506.1 v12 M1173.7,512.1 h13 M1180.2,506.1 v12 M1224,512.1 h13 M1230.5,506.1 v12 M796.5,537.2 h13 M803,531.2 v12 M846.8,537.2 h13 M853.2,531.2 v12 M897,537.2 h13 M903.5,531.2 v12 M947.4,537.2 h13 M953.9,531.2 v12 M997.6,537.2 h13 M1004.1,531.2 v12 M1048,537.2 h13 M1054.5,531.2 v12 M1098.2,537.2 h13 M1104.8,531.2 v12 M1148.5,537.2 h13 M1155,531.2 v12 M1198.8,537.2 h13 M1205.3,531.2 v12 M1249.2,537.2 h13 M1255.7,531.2 v12 M771.3,562.4 h13 M777.8,556.4 v12 M821.6,562.4 h13 M828.1,556.4 v12 M871.9,562.4 h13 M878.4,556.4 v12 M922.2,562.4 h13 M928.7,556.4 v12 M972.5,562.4 h13 M979,556.4 v12 M1022.8,562.4 h13 M1029.3,556.4 v12 M1073.1,562.4 h13 M1079.6,556.4 v12 M1123.4,562.4 h13 M1129.9,556.4 v12 M1173.7,562.4 h13 M1180.2,556.4 v12 M1224,562.4 h13 M1230.5,556.4 v12 M796.5,587.5 h13 M803,581.5 v12 M846.8,587.5 h13 M853.2,581.5 v12 M897,587.5 h13 M903.5,581.5 v12 M947.4,587.5 h13 M953.9,581.5 v12 M997.6,587.5 h13 M1004.1,581.5 v12 M1048,587.5 h13 M1054.5,581.5 v12 M1098.2,587.5 h13 M1104.8,581.5 v12 M1148.5,587.5 h13 M1155,581.5 v12 M1198.8,587.5 h13 M1205.3,581.5 v12 M1249.2,587.5 h13 M1255.7,581.5 v12 M771.3,612.7 h13 M777.8,606.7 v12 M821.6,612.7 h13 M828.1,606.7 v12 M871.9,612.7 h13 M878.4,606.7 v12 M922.2,612.7 h13 M928.7,606.7 v12 M972.5,612.7 h13 M979,606.7 v12 M1022.8,612.7 h13 M1029.3,606.7 v12 M1073.1,612.7 h13 M1079.6,606.7 v12 M1123.4,612.7 h13 M1129.9,606.7 v12 M1173.7,612.7 h13 M1180.2,606.7 v12 M1224,612.7 h13 M1230.5,606.7 v12 M796.5,637.8 h13 M803,631.8 v12 M846.8,637.8 h13 M853.2,631.8 v12 M897,637.8 h13 M903.5,631.8 v12 M947.4,637.8 h13 M953.9,631.8 v12 M997.6,637.8 h13 M1004.1,631.8 v12 M1048,637.8 h13 M1054.5,631.8 v12 M1098.2,637.8 h13 M1104.8,631.8 v12 M1148.5,637.8 h13 M1155,631.8 v12 M1198.8,637.8 h13 M1205.3,631.8 v12 M1249.2,637.8 h13 M1255.7,631.8 v12 M771.3,663 h13 M777.8,657 v12 M821.6,663 h13 M828.1,657 v12 M871.9,663 h13 M878.4,657 v12 M922.2,663 h13 M928.7,657 v12 M972.5,663 h13 M979,657 v12 M1022.8,663 h13 M1029.3,657 v12 M1073.1,663 h13 M1079.6,657 v12 M1123.4,663 h13 M1129.9,657 v12 M1173.7,663 h13 M1180.2,657 v12 M1224,663 h13 M1230.5,657 v12 M796.5,688.1 h13 M803,682.1 v12 M846.8,688.1 h13 M853.2,682.1 v12 M897,688.1 h13 M903.5,682.1 v12 M947.4,688.1 h13 M953.9,682.1 v12 M997.6,688.1 h13 M1004.1,682.1 v12 M1048,688.1 h13 M1054.5,682.1 v12 M1098.2,688.1 h13 M1104.8,682.1 v12 M1148.5,688.1 h13 M1155,682.1 v12 M1198.8,688.1 h13 M1205.3,682.1 v12 M1249.2,688.1 h13 M1255.7,682.1 v12 M771.3,713.3 h13 M777.8,707.3 v12 M821.6,713.3 h13 M828.1,707.3 v12 M871.9,713.3 h13 M878.4,707.3 v12 M922.2,713.3 h13 M928.7,707.3 v12 M972.5,713.3 h13 M979,707.3 v12 M1022.8,713.3 h13 M1029.3,707.3 v12 M1073.1,713.3 h13 M1079.6,707.3 v12 M1123.4,713.3 h13 M1129.9,707.3 v12 M1173.7,713.3 h13 M1180.2,707.3 v12 M1224,713.3 h13 M1230.5,707.3 v12 M796.5,738.4 h13 M803,732.4 v12 M846.8,738.4 h13 M853.2,732.4 v12 M897,738.4 h13 M903.5,732.4 v12 M947.4,738.4 h13 M953.9,732.4 v12 M997.6,738.4 h13 M1004.1,732.4 v12 M1048,738.4 h13 M1054.5,732.4 v12 M1098.2,738.4 h13 M1104.8,732.4 v12 M1148.5,738.4 h13 M1155,732.4 v12 M1198.8,738.4 h13 M1205.3,732.4 v12 M1249.2,738.4 h13 M1255.7,732.4 v12"/>
</g>
<g fill="none" shape-rendering="crispEdges">
<path d="M686,769.8 L878.5,769.8" stroke="#000" stroke-width="2"/>
<path d="M686,807.5 L878.5,807.5" stroke="#000" stroke-width="2"/>
<path d="M830,768.6 L870,768.6" stroke="#000" stroke-width="2.4"/>
<path d="M830,808.8 L870,808.8" stroke="#000" stroke-width="2.6"/>
<path d="M686.2,769.6 L686.2,807.2" stroke="#000" stroke-width="1.2"/>
<path d="M692.7,769.6 L692.7,807.2" stroke="#000" stroke-width="1"/>
<path d="M695.3,769.6 L695.3,807.2" stroke="#000" stroke-width="1.2"/>
<path d="M703.5,769.6 L703.5,807.2" stroke="#000" stroke-width="1.2"/>
<path d="M752.5,769.6 L752.5,807.2" stroke="#000" stroke-width="1.4"/>
<path d="M847,769.6 L847,807.2" stroke="#000" stroke-width="2"/>
<path d="M857.5,769.6 L857.5,807.2" stroke="#000" stroke-width="1.2"/>
<path d="M860.3,769.6 L860.3,807.2" stroke="#000" stroke-width="1.2"/>
<path d="M878,769.6 L878,807.2" stroke="#000" stroke-width="1.4"/>
<rect x="685" y="766" width="11" height="3" fill="#333"/><rect x="685" y="808.5" width="11" height="3" fill="#333"/>
</g>
<g stroke="#000" stroke-width="0.99" fill="none" shape-rendering="crispEdges">
<path d="M526.4,160.9 V756.5 M1430.5,160.9 V741 M527,167.5 H1430"/>
<path d="M1180,194.3 H1553 M900,980.5 H1553 M1547.5,194.3 V980.5"/>
<path d="M459,316.5 H1093 M459,861.2 H905 M465.5,316.5 V861.2"/>
<path d="M685.4,813 V1070 M1311.4,823.5 V1070 M685.4,1064.2 H1311.4"/>
</g>
<g fill="#000">
<path d="M527,167.5 L538,165.5 L538,164.2 L545.5,164.2 L545.5,170.8 L538,170.8 L538,169.5 Z"/>
<path d="M1430,167.5 L1419,169.5 L1419,170.8 L1411.5,170.8 L1411.5,164.2 L1419,164.2 L1419,165.5 Z"/>
<path d="M1547.5,194.5 L1549.5,205.5 L1550.8,205.5 L1550.8,213 L1544.2,213 L1544.2,205.5 L1545.5,205.5 Z"/>
<path d="M1547.5,980 L1545.5,969 L1544.2,969 L1544.2,961.5 L1550.8,961.5 L1550.8,969 L1549.5,969 Z"/>
<path d="M465.5,317 L467.5,328 L468.8,328 L468.8,335.5 L462.2,335.5 L462.2,328 L463.5,328 Z"/>
<path d="M465.5,861 L463.5,850 L462.2,850 L462.2,842.5 L468.8,842.5 L468.8,850 L467.5,850 Z"/>
<path d="M686,1064.2 L697,1062.2 L697,1060.9 L704.5,1060.9 L704.5,1067.5 L697,1067.5 L697,1066.2 Z"/>
<path d="M1311,1064.2 L1300,1066.2 L1300,1067.5 L1292.5,1067.5 L1292.5,1060.9 L1300,1060.9 L1300,1062.2 Z"/>
</g>
<g fill="#000" font-family="Liberation Sans" font-size="100">
<text transform="matrix(0.4722,0.0000,0.0000,0.4986,921.9226,158.0000)">11,39</text>
<text transform="matrix(0.4722,0.0000,0.0000,0.4986,921.9226,158.0000)" fill="none" stroke="#fff" stroke-width="0.9" vector-effect="non-scaling-stroke">11,39</text>
<text transform="matrix(0.4546,0.0000,0.0000,0.5086,953.6270,1055.8000)">7,89</text>
<text transform="matrix(0.4546,0.0000,0.0000,0.5086,953.6270,1055.8000)" fill="none" stroke="#fff" stroke-width="0.9" vector-effect="non-scaling-stroke">7,89</text>
<text transform="matrix(0.0000,-0.4654,0.5100,0.0000,453.7000,633.4270)">6,87</text>
<text transform="matrix(0.0000,-0.4654,0.5100,0.0000,453.7000,633.4270)" fill="none" stroke="#fff" stroke-width="0.9" vector-effect="non-scaling-stroke">6,87</text>
<text transform="matrix(0.0000,-0.4151,0.5043,0.0000,1535.5000,632.8757)">9,91</text>
<text transform="matrix(0.0000,-0.4151,0.5043,0.0000,1535.5000,632.8757)" fill="none" stroke="#fff" stroke-width="0.9" vector-effect="non-scaling-stroke">9,91</text>
<text transform="matrix(0.4059,0.0000,0.0000,0.3971,1098.1000,269.9000)">A3</text>
<text transform="matrix(0.4059,0.0000,0.0000,0.3971,1098.1000,269.9000)" fill="none" stroke="#fff" stroke-width="0.9" vector-effect="non-scaling-stroke">A3</text>
<text transform="matrix(0.4085,0.0000,0.0000,0.3929,759.0000,361.7000)">A6</text>
<text transform="matrix(0.4085,0.0000,0.0000,0.3929,759.0000,361.7000)" fill="none" stroke="#fff" stroke-width="0.9" vector-effect="non-scaling-stroke">A6</text>
<text transform="matrix(0.4145,0.0000,0.0000,0.4043,733.4000,499.6000)">A2</text>
<text transform="matrix(0.4145,0.0000,0.0000,0.4043,733.4000,499.6000)" fill="none" stroke="#fff" stroke-width="0.9" vector-effect="non-scaling-stroke">A2</text>
<text transform="matrix(0.4034,0.0000,0.0000,0.3871,1214.8000,450.6000)">A5</text>
<text transform="matrix(0.4034,0.0000,0.0000,0.3871,1214.8000,450.6000)" fill="none" stroke="#fff" stroke-width="0.9" vector-effect="non-scaling-stroke">A5</text>
<text transform="matrix(0.4120,0.0000,0.0000,0.4029,1196.4000,614.1000)">A2</text>
<text transform="matrix(0.4120,0.0000,0.0000,0.4029,1196.4000,614.1000)" fill="none" stroke="#fff" stroke-width="0.9" vector-effect="non-scaling-stroke">A2</text>
<text transform="matrix(0.4017,0.0000,0.0000,0.3914,1000.2000,632.7000)">A4</text>
<text transform="matrix(0.4017,0.0000,0.0000,0.3914,1000.2000,632.7000)" fill="none" stroke="#fff" stroke-width="0.9" vector-effect="non-scaling-stroke">A4</text>
<text transform="matrix(0.3598,0.0000,0.0000,0.3929,580.7000,808.2000)">A1</text>
<text transform="matrix(0.3598,0.0000,0.0000,0.3929,580.7000,808.2000)" fill="none" stroke="#fff" stroke-width="0.9" vector-effect="non-scaling-stroke">A1</text>
<text transform="matrix(0.4093,0.0000,0.0000,0.3929,1358.2000,792.9000)">A6</text>
<text transform="matrix(0.4093,0.0000,0.0000,0.3929,1358.2000,792.9000)" fill="none" stroke="#fff" stroke-width="0.9" vector-effect="non-scaling-stroke">A6</text>
<text transform="matrix(0.4068,0.0000,0.0000,0.3943,999.9000,911.7000)">A3</text>
<text transform="matrix(0.4068,0.0000,0.0000,0.3943,999.9000,911.7000)" fill="none" stroke="#fff" stroke-width="0.9" vector-effect="non-scaling-stroke">A3</text>
<text transform="matrix(0.3329,0.0000,0.0000,0.3043,44.2357,876.1000)">Critical fall height (CFH)</text>
<text transform="matrix(0.3329,0.0000,0.0000,0.3043,44.2357,876.1000)" fill="none" stroke="#fff" stroke-width="0.45" vector-effect="non-scaling-stroke">Critical fall height (CFH)</text>
<text transform="matrix(0.3137,0.0000,0.0000,0.3029,45.9000,912.6000)">A1: CFH 1,0m - 7,47m²</text>
<text transform="matrix(0.3137,0.0000,0.0000,0.3029,45.9000,912.6000)" fill="none" stroke="#fff" stroke-width="0.45" vector-effect="non-scaling-stroke">A1: CFH 1,0m - 7,47m²</text>
<text transform="matrix(0.3156,0.0000,0.0000,0.3029,45.9000,949.4000)">A2: CFH 1,2m - 11,83m²</text>
<text transform="matrix(0.3156,0.0000,0.0000,0.3029,45.9000,949.4000)" fill="none" stroke="#fff" stroke-width="0.45" vector-effect="non-scaling-stroke">A2: CFH 1,2m - 11,83m²</text>
<text transform="matrix(0.3132,0.0000,0.0000,0.3029,45.9000,986.1000)">A3: CFH 1,55m - 32,86m²</text>
<text transform="matrix(0.3132,0.0000,0.0000,0.3029,45.9000,986.1000)" fill="none" stroke="#fff" stroke-width="0.45" vector-effect="non-scaling-stroke">A3: CFH 1,55m - 32,86m²</text>
<text transform="matrix(0.3132,0.0000,0.0000,0.3029,45.9000,1022.7000)">A4: CFH 1,82m - 6,97m²</text>
<text transform="matrix(0.3132,0.0000,0.0000,0.3029,45.9000,1022.7000)" fill="none" stroke="#fff" stroke-width="0.45" vector-effect="non-scaling-stroke">A4: CFH 1,82m - 6,97m²</text>
<text transform="matrix(0.3129,0.0000,0.0000,0.3029,45.9000,1059.4000)">A5: CFH 1,96m - 10,55m²</text>
<text transform="matrix(0.3129,0.0000,0.0000,0.3029,45.9000,1059.4000)" fill="none" stroke="#fff" stroke-width="0.45" vector-effect="non-scaling-stroke">A5: CFH 1,96m - 10,55m²</text>
<text transform="matrix(0.3165,0.0000,0.0000,0.3029,45.9000,1096.1000)">A6: CFH &lt;0,6m - 12,11m²</text>
<text transform="matrix(0.3165,0.0000,0.0000,0.3029,45.9000,1096.1000)" fill="none" stroke="#fff" stroke-width="0.45" vector-effect="non-scaling-stroke">A6: CFH &lt;0,6m - 12,11m²</text>
<text transform="matrix(0.3324,0.0000,0.0000,0.3029,43.2408,1132.8000)">Rubber surface area: 69,68m²</text>
<text transform="matrix(0.3324,0.0000,0.0000,0.3029,43.2408,1132.8000)" fill="none" stroke="#fff" stroke-width="0.45" vector-effect="non-scaling-stroke">Rubber surface area: 69,68m²</text>
<text transform="matrix(0.3301,0.0000,0.0000,0.3029,45.2399,1169.6000)">Total area: 81,79m²</text>
<text transform="matrix(0.3301,0.0000,0.0000,0.3029,45.2399,1169.6000)" fill="none" stroke="#fff" stroke-width="0.45" vector-effect="non-scaling-stroke">Total area: 81,79m²</text>
</g>
</svg></body></html>
